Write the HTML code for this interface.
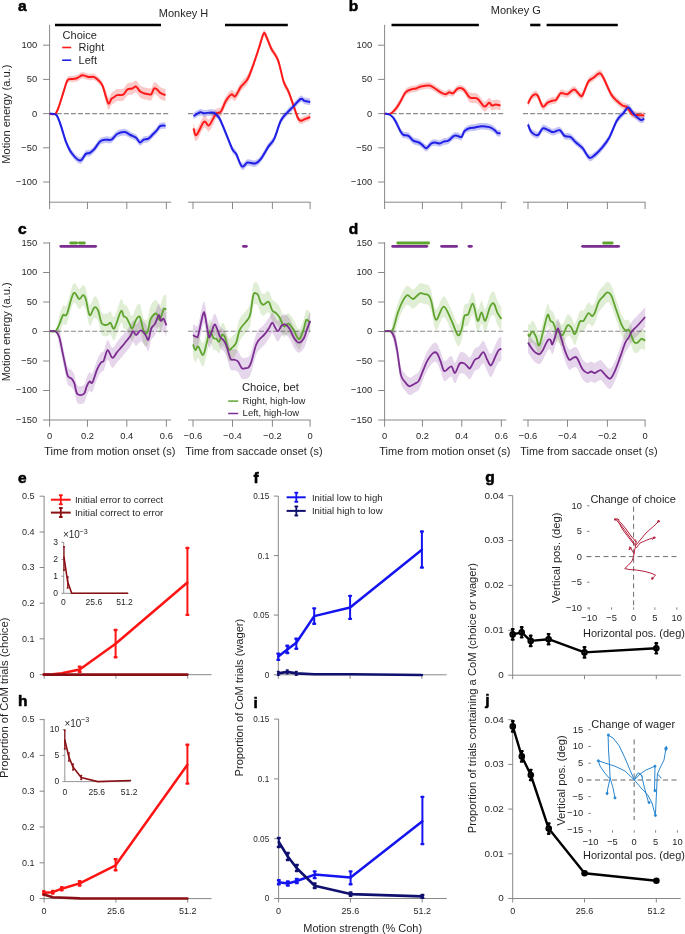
<!DOCTYPE html>
<html><head><meta charset="utf-8"><style>
html,body{margin:0;padding:0;background:#fff;width:685px;height:934px;overflow:hidden}
svg{display:block;font-family:"Liberation Sans", sans-serif}
</style></head><body>
<svg width="685" height="934" viewBox="0 0 685 934">
<rect width="685" height="934" fill="#fff"/>
<line x1="49.6" y1="24.8" x2="49.6" y2="202.2" stroke="#7a7a7a" stroke-width="0.9" stroke-linecap="butt"/>
<line x1="43.1" y1="45.2" x2="49.6" y2="45.2" stroke="#7a7a7a" stroke-width="0.9" stroke-linecap="butt"/>
<text transform="translate(37.2 48.16) scale(0.95 1)" font-size="9.86" text-anchor="end" fill="#231f20">100</text>
<line x1="43.1" y1="79.4" x2="49.6" y2="79.4" stroke="#7a7a7a" stroke-width="0.9" stroke-linecap="butt"/>
<text transform="translate(37.2 82.36) scale(0.95 1)" font-size="9.86" text-anchor="end" fill="#231f20">50</text>
<line x1="43.1" y1="113.6" x2="49.6" y2="113.6" stroke="#7a7a7a" stroke-width="0.9" stroke-linecap="butt"/>
<text transform="translate(37.2 116.56) scale(0.95 1)" font-size="9.86" text-anchor="end" fill="#231f20">0</text>
<line x1="43.1" y1="147.8" x2="49.6" y2="147.8" stroke="#7a7a7a" stroke-width="0.9" stroke-linecap="butt"/>
<text transform="translate(37.2 150.76) scale(0.95 1)" font-size="9.86" text-anchor="end" fill="#231f20">−50</text>
<line x1="43.1" y1="182" x2="49.6" y2="182" stroke="#7a7a7a" stroke-width="0.9" stroke-linecap="butt"/>
<text transform="translate(37.2 184.96) scale(0.95 1)" font-size="9.86" text-anchor="end" fill="#231f20">−100</text>
<line x1="49.15" y1="202.2" x2="171.2" y2="202.2" stroke="#7a7a7a" stroke-width="0.9" stroke-linecap="butt"/>
<line x1="49.6" y1="202.2" x2="49.6" y2="209" stroke="#7a7a7a" stroke-width="0.9" stroke-linecap="butt"/>
<line x1="87.45" y1="202.2" x2="87.45" y2="209" stroke="#7a7a7a" stroke-width="0.9" stroke-linecap="butt"/>
<line x1="126.8" y1="202.2" x2="126.8" y2="209" stroke="#7a7a7a" stroke-width="0.9" stroke-linecap="butt"/>
<line x1="166.35" y1="202.2" x2="166.35" y2="209" stroke="#7a7a7a" stroke-width="0.9" stroke-linecap="butt"/>
<line x1="188" y1="202.2" x2="310.5" y2="202.2" stroke="#7a7a7a" stroke-width="0.9" stroke-linecap="butt"/>
<line x1="193" y1="202.2" x2="193" y2="209" stroke="#7a7a7a" stroke-width="0.9" stroke-linecap="butt"/>
<line x1="232.5" y1="202.2" x2="232.5" y2="209" stroke="#7a7a7a" stroke-width="0.9" stroke-linecap="butt"/>
<line x1="272.4" y1="202.2" x2="272.4" y2="209" stroke="#7a7a7a" stroke-width="0.9" stroke-linecap="butt"/>
<line x1="310.1" y1="202.2" x2="310.1" y2="209" stroke="#7a7a7a" stroke-width="0.9" stroke-linecap="butt"/>
<line x1="49.6" y1="113.6" x2="170.1" y2="113.6" stroke="#8c8c8c" stroke-width="1.1" stroke-linecap="butt" stroke-dasharray="5,2.1"/>
<line x1="188" y1="113.6" x2="310.5" y2="113.6" stroke="#8c8c8c" stroke-width="1.1" stroke-linecap="butt" stroke-dasharray="5,2.1"/>
<line x1="55" y1="25" x2="161" y2="25" stroke="#000" stroke-width="2.6" stroke-linecap="butt"/>
<line x1="225" y1="25" x2="287.8" y2="25" stroke="#000" stroke-width="2.6" stroke-linecap="butt"/>
<text x="183.5" y="16.76" font-size="11" text-anchor="middle" font-weight="normal" fill="#231f20">Monkey H</text>
<text x="17.9" y="11.2" font-size="15.5" text-anchor="start" font-weight="bold" fill="#000" stroke="#000" stroke-width="0.55" stroke-linejoin="round">a</text>
<text x="10.1" y="114.15" font-size="11" text-anchor="middle" font-weight="normal" fill="#231f20" textLength="99" lengthAdjust="spacingAndGlyphs" transform="rotate(-90 10.1 114.15)">Motion energy (a.u.)</text>
<line x1="384.6" y1="24.8" x2="384.6" y2="202.2" stroke="#7a7a7a" stroke-width="0.9" stroke-linecap="butt"/>
<line x1="378.1" y1="45.2" x2="384.6" y2="45.2" stroke="#7a7a7a" stroke-width="0.9" stroke-linecap="butt"/>
<text transform="translate(372.2 48.16) scale(0.95 1)" font-size="9.86" text-anchor="end" fill="#231f20">100</text>
<line x1="378.1" y1="79.4" x2="384.6" y2="79.4" stroke="#7a7a7a" stroke-width="0.9" stroke-linecap="butt"/>
<text transform="translate(372.2 82.36) scale(0.95 1)" font-size="9.86" text-anchor="end" fill="#231f20">50</text>
<line x1="378.1" y1="113.6" x2="384.6" y2="113.6" stroke="#7a7a7a" stroke-width="0.9" stroke-linecap="butt"/>
<text transform="translate(372.2 116.56) scale(0.95 1)" font-size="9.86" text-anchor="end" fill="#231f20">0</text>
<line x1="378.1" y1="147.8" x2="384.6" y2="147.8" stroke="#7a7a7a" stroke-width="0.9" stroke-linecap="butt"/>
<text transform="translate(372.2 150.76) scale(0.95 1)" font-size="9.86" text-anchor="end" fill="#231f20">−50</text>
<line x1="378.1" y1="182" x2="384.6" y2="182" stroke="#7a7a7a" stroke-width="0.9" stroke-linecap="butt"/>
<text transform="translate(372.2 184.96) scale(0.95 1)" font-size="9.86" text-anchor="end" fill="#231f20">−100</text>
<line x1="384.15" y1="202.2" x2="506.2" y2="202.2" stroke="#7a7a7a" stroke-width="0.9" stroke-linecap="butt"/>
<line x1="384.6" y1="202.2" x2="384.6" y2="209" stroke="#7a7a7a" stroke-width="0.9" stroke-linecap="butt"/>
<line x1="422.45" y1="202.2" x2="422.45" y2="209" stroke="#7a7a7a" stroke-width="0.9" stroke-linecap="butt"/>
<line x1="461.8" y1="202.2" x2="461.8" y2="209" stroke="#7a7a7a" stroke-width="0.9" stroke-linecap="butt"/>
<line x1="501.35" y1="202.2" x2="501.35" y2="209" stroke="#7a7a7a" stroke-width="0.9" stroke-linecap="butt"/>
<line x1="523" y1="202.2" x2="645.5" y2="202.2" stroke="#7a7a7a" stroke-width="0.9" stroke-linecap="butt"/>
<line x1="528" y1="202.2" x2="528" y2="209" stroke="#7a7a7a" stroke-width="0.9" stroke-linecap="butt"/>
<line x1="567.5" y1="202.2" x2="567.5" y2="209" stroke="#7a7a7a" stroke-width="0.9" stroke-linecap="butt"/>
<line x1="607.4" y1="202.2" x2="607.4" y2="209" stroke="#7a7a7a" stroke-width="0.9" stroke-linecap="butt"/>
<line x1="645.1" y1="202.2" x2="645.1" y2="209" stroke="#7a7a7a" stroke-width="0.9" stroke-linecap="butt"/>
<line x1="384.6" y1="113.6" x2="505.1" y2="113.6" stroke="#8c8c8c" stroke-width="1.1" stroke-linecap="butt" stroke-dasharray="5,2.1"/>
<line x1="523" y1="113.6" x2="645.5" y2="113.6" stroke="#8c8c8c" stroke-width="1.1" stroke-linecap="butt" stroke-dasharray="5,2.1"/>
<line x1="391.5" y1="25" x2="478.9" y2="25" stroke="#000" stroke-width="2.6" stroke-linecap="butt"/>
<line x1="530.2" y1="25" x2="540.4" y2="25" stroke="#000" stroke-width="2.6" stroke-linecap="butt"/>
<line x1="546.6" y1="25" x2="617.8" y2="25" stroke="#000" stroke-width="2.6" stroke-linecap="butt"/>
<text x="515.8" y="14.46" font-size="11" text-anchor="middle" font-weight="normal" fill="#231f20">Monkey G</text>
<text x="348.71" y="11.2" font-size="15.5" text-anchor="start" font-weight="bold" fill="#000" stroke="#000" stroke-width="0.55" stroke-linejoin="round">b</text>
<path d="M49.7,113.7 C50.65,113.7 53.82,115.6 55.4,113.7 C56.98,111.8 57.77,106.72 59.2,102.3 C60.63,97.88 62.57,91.47 64,87.2 C65.43,82.93 66.22,78.6 67.8,76.7 C69.38,74.8 71.92,76.12 73.5,75.8 C75.08,75.48 75.88,75.43 77.3,74.8 C78.72,74.17 80.58,72.32 82,72 C83.42,71.68 84.53,72.58 85.8,72.9 C87.07,73.22 88.18,73.73 89.6,73.9 C91.02,74.07 92.57,73.12 94.3,73.9 C96.03,74.68 98.57,77.02 100,78.6 C101.43,80.18 101.95,81.5 102.9,83.4 C103.85,85.3 104.75,87.63 105.7,90 C106.65,92.37 107.65,97.12 108.6,97.6 C109.55,98.08 110.45,94 111.4,92.9 C112.35,91.8 113.35,91.63 114.3,91 C115.25,90.37 116,89.42 117.1,89.1 C118.2,88.78 119.8,89.25 120.9,89.1 C122,88.95 122.6,89.15 123.7,88.2 C124.8,87.25 126.07,84.35 127.5,83.4 C128.93,82.45 130.87,82.97 132.3,82.5 C133.73,82.03 134.83,80.13 136.1,80.6 C137.37,81.07 138.63,84.2 139.9,85.3 C141.17,86.4 142.28,86.72 143.7,87.2 C145.12,87.68 147.13,88.03 148.4,88.2 C149.67,88.37 150.35,89.15 151.3,88.2 C152.25,87.25 153.15,83.3 154.1,82.5 C155.05,81.7 155.9,82.62 157,83.4 C158.1,84.18 159.28,86.25 160.7,87.2 C162.12,88.15 164.7,88.78 165.5,89.1 L165.5,101.1 C164.7,100.78 162.12,100.15 160.7,99.2 C159.28,98.25 158.1,96.18 157,95.4 C155.9,94.62 155.05,93.7 154.1,94.5 C153.15,95.3 152.25,99.25 151.3,100.2 C150.35,101.15 149.67,100.37 148.4,100.2 C147.13,100.03 145.12,99.68 143.7,99.2 C142.28,98.72 141.17,98.4 139.9,97.3 C138.63,96.2 137.37,93.07 136.1,92.6 C134.83,92.13 133.73,94.03 132.3,94.5 C130.87,94.97 128.93,94.45 127.5,95.4 C126.07,96.35 124.8,99.25 123.7,100.2 C122.6,101.15 122,100.95 120.9,101.1 C119.8,101.25 118.2,100.78 117.1,101.1 C116,101.42 115.25,102.37 114.3,103 C113.35,103.63 112.35,103.8 111.4,104.9 C110.45,106 109.55,110.08 108.6,109.6 C107.65,109.12 106.65,105.3 105.7,102 C104.75,98.7 103.85,92.63 102.9,89.8 C101.95,86.97 101.43,86.58 100,85 C98.57,83.42 96.03,81.08 94.3,80.3 C92.57,79.52 91.02,80.47 89.6,80.3 C88.18,80.13 87.07,79.62 85.8,79.3 C84.53,78.98 83.42,78.08 82,78.4 C80.58,78.72 78.72,80.57 77.3,81.2 C75.88,81.83 75.08,81.88 73.5,82.2 C71.92,82.52 69.38,81.2 67.8,83.1 C66.22,85 65.43,89.33 64,93.6 C62.57,97.87 60.63,105.35 59.2,108.7 C57.77,112.05 56.98,112.87 55.4,113.7 C53.82,114.53 50.65,113.7 49.7,113.7 Z" fill="#fcc9c9" stroke="none" style="mix-blend-mode:multiply"/>
<path d="M193.5,122.4 C193.98,123.5 194.65,130.1 196.4,129 C198.15,127.9 201.95,117.37 204,115.8 C206.05,114.23 207.12,120.23 208.7,119.6 C210.28,118.97 212.23,113.82 213.5,112 C214.77,110.18 215.03,109.57 216.3,108.7 C217.57,107.83 219.52,108.85 221.1,106.8 C222.68,104.75 224.07,99.23 225.8,96.4 C227.53,93.57 229.92,90.58 231.5,89.8 C233.08,89.02 233.72,92.97 235.3,91.7 C236.88,90.43 238.95,85.05 241,82.2 C243.05,79.35 245.55,78.05 247.6,74.6 C249.65,71.15 251.4,66.52 253.3,61.5 C255.2,56.48 257.27,49.72 259,44.5 C260.73,39.28 262.43,31.95 263.7,30.2 C264.97,28.45 265.33,31.47 266.6,34 C267.87,36.53 269.4,41.6 271.3,45.4 C273.2,49.2 275.93,51.27 278,56.8 C280.07,62.33 281.97,73.38 283.7,78.6 C285.43,83.82 286.82,84.3 288.4,88.1 C289.98,91.9 291.62,96.97 293.2,101.4 C294.78,105.83 296.65,112.02 297.9,114.7 C299.15,117.38 299.43,117.35 300.7,117.5 C301.97,117.65 303.92,116.23 305.5,115.6 C307.08,114.97 309.42,114.02 310.2,113.7 L310.2,120.3 C309.42,120.62 307.08,121.57 305.5,122.2 C303.92,122.83 301.97,124.25 300.7,124.1 C299.43,123.95 299.15,123.98 297.9,121.3 C296.65,118.62 294.78,112.43 293.2,108 C291.62,103.57 289.98,98.5 288.4,94.7 C286.82,90.9 285.43,90.42 283.7,85.2 C281.97,79.98 280.07,68.93 278,63.4 C275.93,57.87 273.2,55.8 271.3,52 C269.4,48.2 267.87,43.13 266.6,40.6 C265.33,38.07 264.97,35.05 263.7,36.8 C262.43,38.55 260.73,45.88 259,51.1 C257.27,56.32 255.2,62.68 253.3,68.1 C251.4,73.52 249.65,79.75 247.6,83.6 C245.55,87.45 243.05,88.35 241,91.2 C238.95,94.05 236.88,99.43 235.3,100.7 C233.72,101.97 233.08,98.02 231.5,98.8 C229.92,99.58 227.53,102.57 225.8,105.4 C224.07,108.23 222.68,113.75 221.1,115.8 C219.52,117.85 217.57,116.33 216.3,117.7 C215.03,119.07 214.77,121.68 213.5,124 C212.23,126.32 210.28,130.97 208.7,131.6 C207.12,132.23 206.05,126.23 204,127.8 C201.95,129.37 198.15,139.9 196.4,141 C194.65,142.1 193.98,135.5 193.5,134.4 Z" fill="#fcc9c9" stroke="none" style="mix-blend-mode:multiply"/>
<path d="M384.7,113.7 C385.65,113.7 388.5,115.13 390.4,113.7 C392.3,112.27 394.35,107.8 396.1,105.1 C397.85,102.4 399.32,100.18 400.9,97.5 C402.48,94.82 403.87,90.9 405.6,89 C407.33,87.1 409.55,86.73 411.3,86.1 C413.05,85.47 414.52,85.67 416.1,85.2 C417.68,84.73 418.6,83.78 420.8,83.3 C423,82.82 426.93,81.98 429.3,82.3 C431.67,82.62 433.1,84.08 435,85.2 C436.9,86.32 438.95,88.05 440.7,89 C442.45,89.95 444.07,90.9 445.5,90.9 C446.93,90.9 448.03,89.17 449.3,89 C450.57,88.83 451.68,90.53 453.1,89.9 C454.52,89.27 456.07,85.83 457.8,85.2 C459.53,84.57 461.6,84.97 463.5,86.1 C465.4,87.23 467.62,90.85 469.2,92 C470.78,93.15 471.58,92.68 473,93 C474.42,93.32 475.8,92.48 477.7,93.9 C479.6,95.32 482.5,100.87 484.4,101.5 C486.3,102.13 487.83,97.87 489.1,97.7 C490.37,97.53 490.9,100.18 492,100.5 C493.1,100.82 494.28,99.6 495.7,99.6 C497.12,99.6 499.7,100.35 500.5,100.5 L500.5,110.5 C499.7,110.35 497.12,109.6 495.7,109.6 C494.28,109.6 493.1,110.82 492,110.5 C490.9,110.18 490.37,107.53 489.1,107.7 C487.83,107.87 486.3,112.13 484.4,111.5 C482.5,110.87 479.6,105.32 477.7,103.9 C475.8,102.48 474.42,103.32 473,103 C471.58,102.68 470.78,103.72 469.2,102 C467.62,100.28 465.4,94.4 463.5,92.7 C461.6,91 459.53,91.17 457.8,91.8 C456.07,92.43 454.52,95.87 453.1,96.5 C451.68,97.13 450.57,95.43 449.3,95.6 C448.03,95.77 446.93,97.5 445.5,97.5 C444.07,97.5 442.45,96.55 440.7,95.6 C438.95,94.65 436.9,92.92 435,91.8 C433.1,90.68 431.67,89.22 429.3,88.9 C426.93,88.58 423,89.42 420.8,89.9 C418.6,90.38 417.68,91.33 416.1,91.8 C414.52,92.27 413.05,92.07 411.3,92.7 C409.55,93.33 407.33,93.7 405.6,95.6 C403.87,97.5 402.48,101.42 400.9,104.1 C399.32,106.78 397.85,110.1 396.1,111.7 C394.35,113.3 392.3,113.37 390.4,113.7 C388.5,114.03 385.65,113.7 384.7,113.7 Z" fill="#fcc9c9" stroke="none" style="mix-blend-mode:multiply"/>
<path d="M528,100.1 C528.57,99 530.2,95.07 531.4,93.5 C532.6,91.93 534.1,90.85 535.2,90.7 C536.3,90.55 536.73,90.55 538,92.6 C539.27,94.65 541.22,101.9 542.8,103 C544.38,104.1 545.92,100.15 547.5,99.2 C549.08,98.25 550.87,97.78 552.3,97.3 C553.73,96.82 554.68,97.57 556.1,96.3 C557.52,95.03 558.92,90.63 560.8,89.7 C562.68,88.77 565.18,91.33 567.4,90.7 C569.62,90.07 572.03,85.75 574.1,85.9 C576.17,86.05 578.38,90.65 579.8,91.6 C581.22,92.55 581.18,93.82 582.6,91.6 C584.02,89.38 586.55,81.15 588.3,78.3 C590.05,75.45 591.2,75.92 593.1,74.5 C595,73.08 597.97,69.8 599.7,69.8 C601.43,69.8 601.6,71.02 603.5,74.5 C605.4,77.98 608.88,86.9 611.1,90.7 C613.32,94.5 614.9,95.42 616.8,97.3 C618.7,99.18 620.77,100.9 622.5,102 C624.23,103.1 625.62,102.47 627.2,103.9 C628.78,105.33 630.27,109.33 632,110.6 C633.73,111.87 635.55,111.28 637.6,111.5 C639.65,111.72 643.18,111.83 644.3,111.9 L644.3,118.9 C643.18,118.83 639.65,118.72 637.6,118.5 C635.55,118.28 633.73,118.87 632,117.6 C630.27,116.33 628.78,112.33 627.2,110.9 C625.62,109.47 624.23,110.1 622.5,109 C620.77,107.9 618.7,106.18 616.8,104.3 C614.9,102.42 613.32,101.5 611.1,97.7 C608.88,93.9 605.4,84.98 603.5,81.5 C601.6,78.02 601.43,76.8 599.7,76.8 C597.97,76.8 595,80.08 593.1,81.5 C591.2,82.92 590.05,82.45 588.3,85.3 C586.55,88.15 584.02,96.38 582.6,98.6 C581.18,100.82 581.22,99.55 579.8,98.6 C578.38,97.65 576.17,93.05 574.1,92.9 C572.03,92.75 569.62,97.07 567.4,97.7 C565.18,98.33 562.68,95.77 560.8,96.7 C558.92,97.63 557.52,102.03 556.1,103.3 C554.68,104.57 553.73,103.82 552.3,104.3 C550.87,104.78 549.08,105.25 547.5,106.2 C545.92,107.15 544.38,111.1 542.8,110 C541.22,108.9 539.27,101.65 538,99.6 C536.73,97.55 536.3,97.55 535.2,97.7 C534.1,97.85 532.6,98.93 531.4,100.5 C530.2,102.07 528.57,106 528,107.1 Z" fill="#fcc9c9" stroke="none" style="mix-blend-mode:multiply"/>
<path d="M49.7,113.7 C50.82,113.92 54.5,113.43 56.4,115 C58.3,116.57 59.52,119.22 61.1,123.1 C62.68,126.98 64.15,133.87 65.9,138.3 C67.65,142.73 69.23,146.53 71.6,149.7 C73.97,152.87 77.73,157.15 80.1,157.3 C82.47,157.45 84.22,151.87 85.8,150.6 C87.38,149.33 88.18,150.48 89.6,149.7 C91.02,148.92 92.57,147.8 94.3,145.9 C96.03,144 98.1,139.88 100,138.3 C101.9,136.72 103.8,136.72 105.7,136.4 C107.6,136.08 109.5,137.35 111.4,136.4 C113.3,135.45 114.88,131.97 117.1,130.7 C119.32,129.43 122.48,128.63 124.7,128.8 C126.92,128.97 128.5,130.75 130.4,131.7 C132.3,132.65 134.52,133.25 136.1,134.5 C137.68,135.75 138.63,138.88 139.9,139.2 C141.17,139.52 142.28,137.03 143.7,136.4 C145.12,135.77 146.82,136.35 148.4,135.4 C149.98,134.45 151.77,132.12 153.2,130.7 C154.63,129.28 155.9,128.17 157,126.9 C158.1,125.63 158.7,123.88 159.8,123.1 C160.9,122.32 162.65,122.27 163.6,122.2 C164.55,122.13 165.18,122.62 165.5,122.7 L165.5,129.3 C165.18,129.22 164.55,128.73 163.6,128.8 C162.65,128.87 160.9,128.92 159.8,129.7 C158.7,130.48 158.1,132.23 157,133.5 C155.9,134.77 154.63,135.88 153.2,137.3 C151.77,138.72 149.98,141.05 148.4,142 C146.82,142.95 145.12,142.37 143.7,143 C142.28,143.63 141.17,146.12 139.9,145.8 C138.63,145.48 137.68,142.35 136.1,141.1 C134.52,139.85 132.3,139.25 130.4,138.3 C128.5,137.35 126.92,135.57 124.7,135.4 C122.48,135.23 119.32,136.03 117.1,137.3 C114.88,138.57 113.3,142.05 111.4,143 C109.5,143.95 107.6,142.68 105.7,143 C103.8,143.32 101.9,143.32 100,144.9 C98.1,146.48 96.03,150.6 94.3,152.5 C92.57,154.4 91.02,155.52 89.6,156.3 C88.18,157.08 87.38,155.93 85.8,157.2 C84.22,158.47 82.47,164.05 80.1,163.9 C77.73,163.75 73.97,159.47 71.6,156.3 C69.23,153.13 67.65,149.33 65.9,144.9 C64.15,140.47 62.68,134.68 61.1,129.7 C59.52,124.72 58.3,117.67 56.4,115 C54.5,112.33 50.82,113.92 49.7,113.7 Z" fill="#c4c4f7" stroke="none" style="mix-blend-mode:multiply"/>
<path d="M193.5,112.8 C194.62,112.17 198.45,109.48 200.2,109 C201.95,108.52 201.78,109.83 204,109.9 C206.22,109.97 210.97,108.6 213.5,109.4 C216.03,110.2 217.15,111.28 219.2,114.7 C221.25,118.12 223.6,124.68 225.8,129.9 C228,135.12 230.67,142.53 232.4,146 C234.13,149.47 234.62,147.85 236.2,150.7 C237.78,153.55 240,161.67 241.9,163.1 C243.8,164.53 245.38,159.78 247.6,159.3 C249.82,158.82 252.98,160.83 255.2,160.2 C257.42,159.57 258.68,158.35 260.9,155.5 C263.12,152.65 266.28,146.42 268.5,143.1 C270.72,139.78 272.15,139.87 274.2,135.6 C276.25,131.33 278.58,121.93 280.8,117.5 C283.02,113.07 285.43,111.37 287.5,109 C289.57,106.63 291,105.52 293.2,103.3 C295.4,101.08 298.82,96.65 300.7,95.7 C302.58,94.75 302.92,97.12 304.5,97.6 C306.08,98.08 309.25,98.43 310.2,98.6 L310.2,105.2 C309.25,105.03 306.08,104.68 304.5,104.2 C302.92,103.72 302.58,101.35 300.7,102.3 C298.82,103.25 295.4,107.68 293.2,109.9 C291,112.12 289.57,113.23 287.5,115.6 C285.43,117.97 283.02,119.67 280.8,124.1 C278.58,128.53 276.25,137.93 274.2,142.2 C272.15,146.47 270.72,146.38 268.5,149.7 C266.28,153.02 263.12,159.25 260.9,162.1 C258.68,164.95 257.42,166.17 255.2,166.8 C252.98,167.43 249.82,165.42 247.6,165.9 C245.38,166.38 243.8,171.13 241.9,169.7 C240,168.27 237.78,160.15 236.2,157.3 C234.62,154.45 234.13,156.07 232.4,152.6 C230.67,149.13 228,141.72 225.8,136.5 C223.6,131.28 221.25,124.72 219.2,121.3 C217.15,117.88 216.03,116.8 213.5,116 C210.97,115.2 206.22,116.57 204,116.5 C201.78,116.43 201.95,115.12 200.2,115.6 C198.45,116.08 194.62,118.77 193.5,119.4 Z" fill="#c4c4f7" stroke="none" style="mix-blend-mode:multiply"/>
<path d="M384.7,113.7 C385.65,113.92 388.65,114.38 390.4,115 C392.15,115.62 393.45,115.1 395.2,117.4 C396.95,119.7 399.48,126.42 400.9,128.8 C402.32,131.18 402.43,131.07 403.7,131.7 C404.97,132.33 406.92,131.67 408.5,132.6 C410.08,133.53 411.47,136.2 413.2,137.3 C414.93,138.4 417.32,138.4 418.9,139.2 C420.48,140 421.43,141.15 422.7,142.1 C423.97,143.05 425.08,145.22 426.5,144.9 C427.92,144.58 429.78,141.15 431.2,140.2 C432.62,139.25 433.57,139.2 435,139.2 C436.43,139.2 438.37,140.35 439.8,140.2 C441.23,140.05 442.18,138.78 443.6,138.3 C445.02,137.82 446.57,138.25 448.3,137.3 C450.03,136.35 452.42,133.38 454,132.6 C455.58,131.82 456.53,132.43 457.8,132.6 C459.07,132.77 460.5,134.38 461.6,133.6 C462.7,132.82 463.13,129.33 464.4,127.9 C465.67,126.47 467.45,125.63 469.2,125 C470.95,124.37 473.17,124.42 474.9,124.1 C476.63,123.78 477.87,123.27 479.6,123.1 C481.33,122.93 483.55,122.93 485.3,123.1 C487.05,123.27 488.52,123.47 490.1,124.1 C491.68,124.73 493.55,125.95 494.8,126.9 C496.05,127.85 496.65,129.32 497.6,129.8 C498.55,130.28 500.02,129.8 500.5,129.8 L500.5,136.4 C500.02,136.4 498.55,136.88 497.6,136.4 C496.65,135.92 496.05,134.45 494.8,133.5 C493.55,132.55 491.68,131.33 490.1,130.7 C488.52,130.07 487.05,129.87 485.3,129.7 C483.55,129.53 481.33,129.53 479.6,129.7 C477.87,129.87 476.63,130.38 474.9,130.7 C473.17,131.02 470.95,130.97 469.2,131.6 C467.45,132.23 465.67,133.07 464.4,134.5 C463.13,135.93 462.7,139.42 461.6,140.2 C460.5,140.98 459.07,139.37 457.8,139.2 C456.53,139.03 455.58,138.42 454,139.2 C452.42,139.98 450.03,142.95 448.3,143.9 C446.57,144.85 445.02,144.42 443.6,144.9 C442.18,145.38 441.23,146.65 439.8,146.8 C438.37,146.95 436.43,145.8 435,145.8 C433.57,145.8 432.62,145.85 431.2,146.8 C429.78,147.75 427.92,151.18 426.5,151.5 C425.08,151.82 423.97,149.65 422.7,148.7 C421.43,147.75 420.48,146.6 418.9,145.8 C417.32,145 414.93,145 413.2,143.9 C411.47,142.8 410.08,140.13 408.5,139.2 C406.92,138.27 404.97,138.93 403.7,138.3 C402.43,137.67 402.32,137.78 400.9,135.4 C399.48,133.02 396.95,127.4 395.2,124 C393.45,120.6 392.15,116.72 390.4,115 C388.65,113.28 385.65,113.92 384.7,113.7 Z" fill="#c4c4f7" stroke="none" style="mix-blend-mode:multiply"/>
<path d="M528,121.2 C528.57,122.47 529.73,127.05 531.4,128.8 C533.07,130.55 536.1,132.33 538,131.7 C539.9,131.07 541.05,125.8 542.8,125 C544.55,124.2 546.77,126.27 548.5,126.9 C550.23,127.53 551.32,128.8 553.2,128.8 C555.08,128.8 557.9,126.27 559.8,126.9 C561.7,127.53 562.85,131.48 564.6,132.6 C566.35,133.72 568.4,132.5 570.3,133.6 C572.2,134.7 573.95,137.32 576,139.2 C578.05,141.08 580.38,142.37 582.6,144.9 C584.82,147.43 587.23,153.28 589.3,154.4 C591.37,155.52 592.95,153.18 595,151.6 C597.05,150.02 599.23,147.75 601.6,144.9 C603.97,142.05 606.67,139.08 609.2,134.5 C611.73,129.92 614.43,121.52 616.8,117.4 C619.17,113.28 621.5,112.02 623.4,109.8 C625.3,107.58 626.45,103.93 628.2,104.1 C629.95,104.27 631.85,108.73 633.9,110.8 C635.95,112.87 638.77,115.72 640.5,116.5 C642.23,117.28 643.67,115.67 644.3,115.5 L644.3,122.1 C643.67,122.27 642.23,123.88 640.5,123.1 C638.77,122.32 635.95,119.47 633.9,117.4 C631.85,115.33 629.95,110.87 628.2,110.7 C626.45,110.53 625.3,114.18 623.4,116.4 C621.5,118.62 619.17,119.88 616.8,124 C614.43,128.12 611.73,136.52 609.2,141.1 C606.67,145.68 603.97,148.65 601.6,151.5 C599.23,154.35 597.05,156.62 595,158.2 C592.95,159.78 591.37,162.12 589.3,161 C587.23,159.88 584.82,154.03 582.6,151.5 C580.38,148.97 578.05,147.68 576,145.8 C573.95,143.92 572.2,141.3 570.3,140.2 C568.4,139.1 566.35,140.32 564.6,139.2 C562.85,138.08 561.7,134.13 559.8,133.5 C557.9,132.87 555.08,135.4 553.2,135.4 C551.32,135.4 550.23,134.13 548.5,133.5 C546.77,132.87 544.55,130.8 542.8,131.6 C541.05,132.4 539.9,137.67 538,138.3 C536.1,138.93 533.07,137.15 531.4,135.4 C529.73,133.65 528.57,129.07 528,127.8 Z" fill="#c4c4f7" stroke="none" style="mix-blend-mode:multiply"/>
<path d="M49.7,113.7 C50.65,113.7 53.82,115.07 55.4,113.7 C56.98,112.33 57.77,109.38 59.2,105.5 C60.63,101.62 62.57,94.67 64,90.4 C65.43,86.13 66.22,81.8 67.8,79.9 C69.38,78 71.92,79.32 73.5,79 C75.08,78.68 75.88,78.63 77.3,78 C78.72,77.37 80.58,75.52 82,75.2 C83.42,74.88 84.53,75.78 85.8,76.1 C87.07,76.42 88.18,76.93 89.6,77.1 C91.02,77.27 92.57,76.32 94.3,77.1 C96.03,77.88 98.57,80.22 100,81.8 C101.43,83.38 101.95,84.23 102.9,86.6 C103.85,88.97 104.75,93.17 105.7,96 C106.65,98.83 107.65,103.12 108.6,103.6 C109.55,104.08 110.45,100 111.4,98.9 C112.35,97.8 113.35,97.63 114.3,97 C115.25,96.37 116,95.42 117.1,95.1 C118.2,94.78 119.8,95.25 120.9,95.1 C122,94.95 122.6,95.15 123.7,94.2 C124.8,93.25 126.07,90.35 127.5,89.4 C128.93,88.45 130.87,88.97 132.3,88.5 C133.73,88.03 134.83,86.13 136.1,86.6 C137.37,87.07 138.63,90.2 139.9,91.3 C141.17,92.4 142.28,92.72 143.7,93.2 C145.12,93.68 147.13,94.03 148.4,94.2 C149.67,94.37 150.35,95.15 151.3,94.2 C152.25,93.25 153.15,89.3 154.1,88.5 C155.05,87.7 155.9,88.62 157,89.4 C158.1,90.18 159.28,92.25 160.7,93.2 C162.12,94.15 164.7,94.78 165.5,95.1" fill="none" stroke="#ff1a1a" stroke-width="2.0" stroke-linejoin="round" stroke-linecap="butt"/>
<path d="M193.5,128.4 C193.98,129.5 194.65,136.1 196.4,135 C198.15,133.9 201.95,123.37 204,121.8 C206.05,120.23 207.12,126.23 208.7,125.6 C210.28,124.97 212.23,120.07 213.5,118 C214.77,115.93 215.03,114.32 216.3,113.2 C217.57,112.08 219.52,113.35 221.1,111.3 C222.68,109.25 224.07,103.73 225.8,100.9 C227.53,98.07 229.92,95.08 231.5,94.3 C233.08,93.52 233.72,97.47 235.3,96.2 C236.88,94.93 238.95,89.55 241,86.7 C243.05,83.85 245.55,82.75 247.6,79.1 C249.65,75.45 251.4,70.02 253.3,64.8 C255.2,59.58 257.27,53.02 259,47.8 C260.73,42.58 262.43,35.25 263.7,33.5 C264.97,31.75 265.33,34.77 266.6,37.3 C267.87,39.83 269.4,44.9 271.3,48.7 C273.2,52.5 275.93,54.57 278,60.1 C280.07,65.63 281.97,76.68 283.7,81.9 C285.43,87.12 286.82,87.6 288.4,91.4 C289.98,95.2 291.62,100.27 293.2,104.7 C294.78,109.13 296.65,115.32 297.9,118 C299.15,120.68 299.43,120.65 300.7,120.8 C301.97,120.95 303.92,119.53 305.5,118.9 C307.08,118.27 309.42,117.32 310.2,117" fill="none" stroke="#ff1a1a" stroke-width="2.0" stroke-linejoin="round" stroke-linecap="butt"/>
<path d="M384.7,113.7 C385.65,113.7 388.5,114.58 390.4,113.7 C392.3,112.82 394.35,110.55 396.1,108.4 C397.85,106.25 399.32,103.48 400.9,100.8 C402.48,98.12 403.87,94.2 405.6,92.3 C407.33,90.4 409.55,90.03 411.3,89.4 C413.05,88.77 414.52,88.97 416.1,88.5 C417.68,88.03 418.6,87.08 420.8,86.6 C423,86.12 426.93,85.28 429.3,85.6 C431.67,85.92 433.1,87.38 435,88.5 C436.9,89.62 438.95,91.35 440.7,92.3 C442.45,93.25 444.07,94.2 445.5,94.2 C446.93,94.2 448.03,92.47 449.3,92.3 C450.57,92.13 451.68,93.83 453.1,93.2 C454.52,92.57 456.07,89.13 457.8,88.5 C459.53,87.87 461.6,87.98 463.5,89.4 C465.4,90.82 467.62,95.57 469.2,97 C470.78,98.43 471.58,97.68 473,98 C474.42,98.32 475.8,97.48 477.7,98.9 C479.6,100.32 482.5,105.87 484.4,106.5 C486.3,107.13 487.83,102.87 489.1,102.7 C490.37,102.53 490.9,105.18 492,105.5 C493.1,105.82 494.28,104.6 495.7,104.6 C497.12,104.6 499.7,105.35 500.5,105.5" fill="none" stroke="#ff1a1a" stroke-width="2.0" stroke-linejoin="round" stroke-linecap="butt"/>
<path d="M528,103.6 C528.57,102.5 530.2,98.57 531.4,97 C532.6,95.43 534.1,94.35 535.2,94.2 C536.3,94.05 536.73,94.05 538,96.1 C539.27,98.15 541.22,105.4 542.8,106.5 C544.38,107.6 545.92,103.65 547.5,102.7 C549.08,101.75 550.87,101.28 552.3,100.8 C553.73,100.32 554.68,101.07 556.1,99.8 C557.52,98.53 558.92,94.13 560.8,93.2 C562.68,92.27 565.18,94.83 567.4,94.2 C569.62,93.57 572.03,89.25 574.1,89.4 C576.17,89.55 578.38,94.15 579.8,95.1 C581.22,96.05 581.18,97.32 582.6,95.1 C584.02,92.88 586.55,84.65 588.3,81.8 C590.05,78.95 591.2,79.42 593.1,78 C595,76.58 597.97,73.3 599.7,73.3 C601.43,73.3 601.6,74.52 603.5,78 C605.4,81.48 608.88,90.4 611.1,94.2 C613.32,98 614.9,98.92 616.8,100.8 C618.7,102.68 620.77,104.4 622.5,105.5 C624.23,106.6 625.62,105.97 627.2,107.4 C628.78,108.83 630.27,112.83 632,114.1 C633.73,115.37 635.55,114.78 637.6,115 C639.65,115.22 643.18,115.33 644.3,115.4" fill="none" stroke="#ff1a1a" stroke-width="2.0" stroke-linejoin="round" stroke-linecap="butt"/>
<path d="M49.7,113.7 C50.82,113.92 54.5,112.88 56.4,115 C58.3,117.12 59.52,121.97 61.1,126.4 C62.68,130.83 64.15,137.17 65.9,141.6 C67.65,146.03 69.23,149.83 71.6,153 C73.97,156.17 77.73,160.45 80.1,160.6 C82.47,160.75 84.22,155.17 85.8,153.9 C87.38,152.63 88.18,153.78 89.6,153 C91.02,152.22 92.57,151.1 94.3,149.2 C96.03,147.3 98.1,143.18 100,141.6 C101.9,140.02 103.8,140.02 105.7,139.7 C107.6,139.38 109.5,140.65 111.4,139.7 C113.3,138.75 114.88,135.27 117.1,134 C119.32,132.73 122.48,131.93 124.7,132.1 C126.92,132.27 128.5,134.05 130.4,135 C132.3,135.95 134.52,136.55 136.1,137.8 C137.68,139.05 138.63,142.18 139.9,142.5 C141.17,142.82 142.28,140.33 143.7,139.7 C145.12,139.07 146.82,139.65 148.4,138.7 C149.98,137.75 151.77,135.42 153.2,134 C154.63,132.58 155.9,131.47 157,130.2 C158.1,128.93 158.7,127.18 159.8,126.4 C160.9,125.62 162.65,125.57 163.6,125.5 C164.55,125.43 165.18,125.92 165.5,126" fill="none" stroke="#1f1fe6" stroke-width="2.0" stroke-linejoin="round" stroke-linecap="butt"/>
<path d="M193.5,116.1 C194.62,115.47 198.45,112.78 200.2,112.3 C201.95,111.82 201.78,113.13 204,113.2 C206.22,113.27 210.97,111.9 213.5,112.7 C216.03,113.5 217.15,114.58 219.2,118 C221.25,121.42 223.6,127.98 225.8,133.2 C228,138.42 230.67,145.83 232.4,149.3 C234.13,152.77 234.62,151.15 236.2,154 C237.78,156.85 240,164.97 241.9,166.4 C243.8,167.83 245.38,163.08 247.6,162.6 C249.82,162.12 252.98,164.13 255.2,163.5 C257.42,162.87 258.68,161.65 260.9,158.8 C263.12,155.95 266.28,149.72 268.5,146.4 C270.72,143.08 272.15,143.17 274.2,138.9 C276.25,134.63 278.58,125.23 280.8,120.8 C283.02,116.37 285.43,114.67 287.5,112.3 C289.57,109.93 291,108.82 293.2,106.6 C295.4,104.38 298.82,99.95 300.7,99 C302.58,98.05 302.92,100.42 304.5,100.9 C306.08,101.38 309.25,101.73 310.2,101.9" fill="none" stroke="#1f1fe6" stroke-width="2.0" stroke-linejoin="round" stroke-linecap="butt"/>
<path d="M384.7,113.7 C385.65,113.92 388.65,113.83 390.4,115 C392.15,116.17 393.45,117.85 395.2,120.7 C396.95,123.55 399.48,129.72 400.9,132.1 C402.32,134.48 402.43,134.37 403.7,135 C404.97,135.63 406.92,134.97 408.5,135.9 C410.08,136.83 411.47,139.5 413.2,140.6 C414.93,141.7 417.32,141.7 418.9,142.5 C420.48,143.3 421.43,144.45 422.7,145.4 C423.97,146.35 425.08,148.52 426.5,148.2 C427.92,147.88 429.78,144.45 431.2,143.5 C432.62,142.55 433.57,142.5 435,142.5 C436.43,142.5 438.37,143.65 439.8,143.5 C441.23,143.35 442.18,142.08 443.6,141.6 C445.02,141.12 446.57,141.55 448.3,140.6 C450.03,139.65 452.42,136.68 454,135.9 C455.58,135.12 456.53,135.73 457.8,135.9 C459.07,136.07 460.5,137.68 461.6,136.9 C462.7,136.12 463.13,132.63 464.4,131.2 C465.67,129.77 467.45,128.93 469.2,128.3 C470.95,127.67 473.17,127.72 474.9,127.4 C476.63,127.08 477.87,126.57 479.6,126.4 C481.33,126.23 483.55,126.23 485.3,126.4 C487.05,126.57 488.52,126.77 490.1,127.4 C491.68,128.03 493.55,129.25 494.8,130.2 C496.05,131.15 496.65,132.62 497.6,133.1 C498.55,133.58 500.02,133.1 500.5,133.1" fill="none" stroke="#1f1fe6" stroke-width="2.0" stroke-linejoin="round" stroke-linecap="butt"/>
<path d="M528,124.5 C528.57,125.77 529.73,130.35 531.4,132.1 C533.07,133.85 536.1,135.63 538,135 C539.9,134.37 541.05,129.1 542.8,128.3 C544.55,127.5 546.77,129.57 548.5,130.2 C550.23,130.83 551.32,132.1 553.2,132.1 C555.08,132.1 557.9,129.57 559.8,130.2 C561.7,130.83 562.85,134.78 564.6,135.9 C566.35,137.02 568.4,135.8 570.3,136.9 C572.2,138 573.95,140.62 576,142.5 C578.05,144.38 580.38,145.67 582.6,148.2 C584.82,150.73 587.23,156.58 589.3,157.7 C591.37,158.82 592.95,156.48 595,154.9 C597.05,153.32 599.23,151.05 601.6,148.2 C603.97,145.35 606.67,142.38 609.2,137.8 C611.73,133.22 614.43,124.82 616.8,120.7 C619.17,116.58 621.5,115.32 623.4,113.1 C625.3,110.88 626.45,107.23 628.2,107.4 C629.95,107.57 631.85,112.03 633.9,114.1 C635.95,116.17 638.77,119.02 640.5,119.8 C642.23,120.58 643.67,118.97 644.3,118.8" fill="none" stroke="#1f1fe6" stroke-width="2.0" stroke-linejoin="round" stroke-linecap="butt"/>
<text x="62.6" y="39.2" font-size="11" text-anchor="start" font-weight="normal" fill="#231f20">Choice</text>
<line x1="62.2" y1="47.5" x2="71.2" y2="47.5" stroke="#ff1a1a" stroke-width="1.6" stroke-linecap="butt"/>
<text x="78.6" y="51" font-size="11" text-anchor="start" font-weight="normal" fill="#231f20">Right</text>
<line x1="62.2" y1="60.2" x2="71.2" y2="60.2" stroke="#1f1fe6" stroke-width="1.6" stroke-linecap="butt"/>
<text x="78.6" y="63.5" font-size="11" text-anchor="start" font-weight="normal" fill="#231f20">Left</text>
<line x1="49.6" y1="242.3" x2="49.6" y2="420" stroke="#7a7a7a" stroke-width="0.9" stroke-linecap="butt"/>
<line x1="43.1" y1="243" x2="49.6" y2="243" stroke="#7a7a7a" stroke-width="0.9" stroke-linecap="butt"/>
<text transform="translate(37.2 245.96) scale(0.95 1)" font-size="9.86" text-anchor="end" fill="#231f20">150</text>
<line x1="43.1" y1="272.5" x2="49.6" y2="272.5" stroke="#7a7a7a" stroke-width="0.9" stroke-linecap="butt"/>
<text transform="translate(37.2 275.46) scale(0.95 1)" font-size="9.86" text-anchor="end" fill="#231f20">100</text>
<line x1="43.1" y1="302" x2="49.6" y2="302" stroke="#7a7a7a" stroke-width="0.9" stroke-linecap="butt"/>
<text transform="translate(37.2 304.96) scale(0.95 1)" font-size="9.86" text-anchor="end" fill="#231f20">50</text>
<line x1="43.1" y1="331.5" x2="49.6" y2="331.5" stroke="#7a7a7a" stroke-width="0.9" stroke-linecap="butt"/>
<text transform="translate(37.2 334.46) scale(0.95 1)" font-size="9.86" text-anchor="end" fill="#231f20">0</text>
<line x1="43.1" y1="361" x2="49.6" y2="361" stroke="#7a7a7a" stroke-width="0.9" stroke-linecap="butt"/>
<text transform="translate(37.2 363.96) scale(0.95 1)" font-size="9.86" text-anchor="end" fill="#231f20">−50</text>
<line x1="43.1" y1="390.5" x2="49.6" y2="390.5" stroke="#7a7a7a" stroke-width="0.9" stroke-linecap="butt"/>
<text transform="translate(37.2 393.46) scale(0.95 1)" font-size="9.86" text-anchor="end" fill="#231f20">−100</text>
<line x1="43.1" y1="420" x2="49.6" y2="420" stroke="#7a7a7a" stroke-width="0.9" stroke-linecap="butt"/>
<text transform="translate(37.2 422.96) scale(0.95 1)" font-size="9.86" text-anchor="end" fill="#231f20">−150</text>
<line x1="49.15" y1="420" x2="171.2" y2="420" stroke="#7a7a7a" stroke-width="0.9" stroke-linecap="butt"/>
<line x1="49.6" y1="420" x2="49.6" y2="426.8" stroke="#7a7a7a" stroke-width="0.9" stroke-linecap="butt"/>
<text transform="translate(49.6 438.96) scale(0.95 1)" font-size="9.86" text-anchor="middle" fill="#231f20">0</text>
<line x1="87.45" y1="420" x2="87.45" y2="426.8" stroke="#7a7a7a" stroke-width="0.9" stroke-linecap="butt"/>
<text transform="translate(87.45 438.96) scale(0.95 1)" font-size="9.86" text-anchor="middle" fill="#231f20">0.2</text>
<line x1="126.8" y1="420" x2="126.8" y2="426.8" stroke="#7a7a7a" stroke-width="0.9" stroke-linecap="butt"/>
<text transform="translate(126.8 438.96) scale(0.95 1)" font-size="9.86" text-anchor="middle" fill="#231f20">0.4</text>
<line x1="166.35" y1="420" x2="166.35" y2="426.8" stroke="#7a7a7a" stroke-width="0.9" stroke-linecap="butt"/>
<text transform="translate(166.35 438.96) scale(0.95 1)" font-size="9.86" text-anchor="middle" fill="#231f20">0.6</text>
<line x1="188" y1="420" x2="310.5" y2="420" stroke="#7a7a7a" stroke-width="0.9" stroke-linecap="butt"/>
<line x1="193" y1="420" x2="193" y2="426.8" stroke="#7a7a7a" stroke-width="0.9" stroke-linecap="butt"/>
<text transform="translate(193 438.96) scale(0.95 1)" font-size="9.86" text-anchor="middle" fill="#231f20">−0.6</text>
<line x1="232.5" y1="420" x2="232.5" y2="426.8" stroke="#7a7a7a" stroke-width="0.9" stroke-linecap="butt"/>
<text transform="translate(232.5 438.96) scale(0.95 1)" font-size="9.86" text-anchor="middle" fill="#231f20">−0.4</text>
<line x1="272.4" y1="420" x2="272.4" y2="426.8" stroke="#7a7a7a" stroke-width="0.9" stroke-linecap="butt"/>
<text transform="translate(272.4 438.96) scale(0.95 1)" font-size="9.86" text-anchor="middle" fill="#231f20">−0.2</text>
<line x1="310.1" y1="420" x2="310.1" y2="426.8" stroke="#7a7a7a" stroke-width="0.9" stroke-linecap="butt"/>
<text transform="translate(310.1 438.96) scale(0.95 1)" font-size="9.86" text-anchor="middle" fill="#231f20">0</text>
<line x1="49.6" y1="331.3" x2="170.1" y2="331.3" stroke="#8c8c8c" stroke-width="1.1" stroke-linecap="butt" stroke-dasharray="5,2.1"/>
<line x1="188" y1="331.3" x2="310.5" y2="331.3" stroke="#8c8c8c" stroke-width="1.1" stroke-linecap="butt" stroke-dasharray="5,2.1"/>
<line x1="60.8" y1="246.3" x2="95.6" y2="246.3" stroke="#7b2d91" stroke-width="2.8" stroke-linecap="round"/>
<line x1="243.4" y1="246.3" x2="246.4" y2="246.3" stroke="#7b2d91" stroke-width="2.8" stroke-linecap="round"/>
<line x1="70.7" y1="243" x2="76.6" y2="243" stroke="#5ea42f" stroke-width="2.8" stroke-linecap="round"/>
<line x1="79.4" y1="243" x2="84.4" y2="243" stroke="#5ea42f" stroke-width="2.8" stroke-linecap="round"/>
<text x="17.9" y="234.4" font-size="15.5" text-anchor="start" font-weight="bold" fill="#000" stroke="#000" stroke-width="0.55" stroke-linejoin="round">c</text>
<text x="44.2" y="455.36" font-size="11" text-anchor="start" font-weight="normal" fill="#231f20" textLength="131.2" lengthAdjust="spacingAndGlyphs">Time from motion onset (s)</text>
<text x="185.3" y="455.36" font-size="11" text-anchor="start" font-weight="normal" fill="#231f20" textLength="137.2" lengthAdjust="spacingAndGlyphs">Time from saccade onset (s)</text>
<text x="10" y="331.85" font-size="11" text-anchor="middle" font-weight="normal" fill="#231f20" textLength="99" lengthAdjust="spacingAndGlyphs" transform="rotate(-90 10 331.85)">Motion energy (a.u.)</text>
<line x1="384.6" y1="242.3" x2="384.6" y2="420" stroke="#7a7a7a" stroke-width="0.9" stroke-linecap="butt"/>
<line x1="378.1" y1="243" x2="384.6" y2="243" stroke="#7a7a7a" stroke-width="0.9" stroke-linecap="butt"/>
<text transform="translate(372.2 245.96) scale(0.95 1)" font-size="9.86" text-anchor="end" fill="#231f20">150</text>
<line x1="378.1" y1="272.5" x2="384.6" y2="272.5" stroke="#7a7a7a" stroke-width="0.9" stroke-linecap="butt"/>
<text transform="translate(372.2 275.46) scale(0.95 1)" font-size="9.86" text-anchor="end" fill="#231f20">100</text>
<line x1="378.1" y1="302" x2="384.6" y2="302" stroke="#7a7a7a" stroke-width="0.9" stroke-linecap="butt"/>
<text transform="translate(372.2 304.96) scale(0.95 1)" font-size="9.86" text-anchor="end" fill="#231f20">50</text>
<line x1="378.1" y1="331.5" x2="384.6" y2="331.5" stroke="#7a7a7a" stroke-width="0.9" stroke-linecap="butt"/>
<text transform="translate(372.2 334.46) scale(0.95 1)" font-size="9.86" text-anchor="end" fill="#231f20">0</text>
<line x1="378.1" y1="361" x2="384.6" y2="361" stroke="#7a7a7a" stroke-width="0.9" stroke-linecap="butt"/>
<text transform="translate(372.2 363.96) scale(0.95 1)" font-size="9.86" text-anchor="end" fill="#231f20">−50</text>
<line x1="378.1" y1="390.5" x2="384.6" y2="390.5" stroke="#7a7a7a" stroke-width="0.9" stroke-linecap="butt"/>
<text transform="translate(372.2 393.46) scale(0.95 1)" font-size="9.86" text-anchor="end" fill="#231f20">−100</text>
<line x1="378.1" y1="420" x2="384.6" y2="420" stroke="#7a7a7a" stroke-width="0.9" stroke-linecap="butt"/>
<text transform="translate(372.2 422.96) scale(0.95 1)" font-size="9.86" text-anchor="end" fill="#231f20">−150</text>
<line x1="384.15" y1="420" x2="506.2" y2="420" stroke="#7a7a7a" stroke-width="0.9" stroke-linecap="butt"/>
<line x1="384.6" y1="420" x2="384.6" y2="426.8" stroke="#7a7a7a" stroke-width="0.9" stroke-linecap="butt"/>
<text transform="translate(384.6 438.96) scale(0.95 1)" font-size="9.86" text-anchor="middle" fill="#231f20">0</text>
<line x1="422.45" y1="420" x2="422.45" y2="426.8" stroke="#7a7a7a" stroke-width="0.9" stroke-linecap="butt"/>
<text transform="translate(422.45 438.96) scale(0.95 1)" font-size="9.86" text-anchor="middle" fill="#231f20">0.2</text>
<line x1="461.8" y1="420" x2="461.8" y2="426.8" stroke="#7a7a7a" stroke-width="0.9" stroke-linecap="butt"/>
<text transform="translate(461.8 438.96) scale(0.95 1)" font-size="9.86" text-anchor="middle" fill="#231f20">0.4</text>
<line x1="501.35" y1="420" x2="501.35" y2="426.8" stroke="#7a7a7a" stroke-width="0.9" stroke-linecap="butt"/>
<text transform="translate(501.35 438.96) scale(0.95 1)" font-size="9.86" text-anchor="middle" fill="#231f20">0.6</text>
<line x1="523" y1="420" x2="645.5" y2="420" stroke="#7a7a7a" stroke-width="0.9" stroke-linecap="butt"/>
<line x1="528" y1="420" x2="528" y2="426.8" stroke="#7a7a7a" stroke-width="0.9" stroke-linecap="butt"/>
<text transform="translate(528 438.96) scale(0.95 1)" font-size="9.86" text-anchor="middle" fill="#231f20">−0.6</text>
<line x1="567.5" y1="420" x2="567.5" y2="426.8" stroke="#7a7a7a" stroke-width="0.9" stroke-linecap="butt"/>
<text transform="translate(567.5 438.96) scale(0.95 1)" font-size="9.86" text-anchor="middle" fill="#231f20">−0.4</text>
<line x1="607.4" y1="420" x2="607.4" y2="426.8" stroke="#7a7a7a" stroke-width="0.9" stroke-linecap="butt"/>
<text transform="translate(607.4 438.96) scale(0.95 1)" font-size="9.86" text-anchor="middle" fill="#231f20">−0.2</text>
<line x1="645.1" y1="420" x2="645.1" y2="426.8" stroke="#7a7a7a" stroke-width="0.9" stroke-linecap="butt"/>
<text transform="translate(645.1 438.96) scale(0.95 1)" font-size="9.86" text-anchor="middle" fill="#231f20">0</text>
<line x1="384.6" y1="331.3" x2="505.1" y2="331.3" stroke="#8c8c8c" stroke-width="1.1" stroke-linecap="butt" stroke-dasharray="5,2.1"/>
<line x1="523" y1="331.3" x2="645.5" y2="331.3" stroke="#8c8c8c" stroke-width="1.1" stroke-linecap="butt" stroke-dasharray="5,2.1"/>
<line x1="392.7" y1="246.3" x2="426.8" y2="246.3" stroke="#7b2d91" stroke-width="2.8" stroke-linecap="round"/>
<line x1="441.6" y1="246.3" x2="456.6" y2="246.3" stroke="#7b2d91" stroke-width="2.8" stroke-linecap="round"/>
<line x1="471.4" y1="246.3" x2="469" y2="246.3" stroke="#7b2d91" stroke-width="2.8" stroke-linecap="round"/>
<line x1="582.6" y1="246.3" x2="618.6" y2="246.3" stroke="#7b2d91" stroke-width="2.8" stroke-linecap="round"/>
<line x1="397.7" y1="243" x2="428.6" y2="243" stroke="#5ea42f" stroke-width="2.8" stroke-linecap="round"/>
<line x1="603.6" y1="243" x2="612.2" y2="243" stroke="#5ea42f" stroke-width="2.8" stroke-linecap="round"/>
<text x="348.71" y="234.4" font-size="15.5" text-anchor="start" font-weight="bold" fill="#000" stroke="#000" stroke-width="0.55" stroke-linejoin="round">d</text>
<text x="379.2" y="455.36" font-size="11" text-anchor="start" font-weight="normal" fill="#231f20" textLength="131.2" lengthAdjust="spacingAndGlyphs">Time from motion onset (s)</text>
<text x="520.3" y="455.36" font-size="11" text-anchor="start" font-weight="normal" fill="#231f20" textLength="137.2" lengthAdjust="spacingAndGlyphs">Time from saccade onset (s)</text>
<path d="M49.7,331.2 C50.65,331.2 53.82,333.82 55.4,331.2 C56.98,328.58 57.93,319.69 59.2,315.45 C60.47,311.22 61.73,307.57 63,305.78 C64.27,303.99 65.05,308.42 66.8,304.71 C68.55,301 71.43,286.13 73.5,283.5 C75.57,280.88 77.62,288.7 79.2,288.95 C80.78,289.19 81.9,285.02 83,284.97 C84.1,284.92 84.7,285.38 85.8,288.65 C86.9,291.91 88.18,303.22 89.6,304.57 C91.02,305.93 92.88,297.61 94.3,296.76 C95.72,295.91 96.83,296.86 98.1,299.49 C99.37,302.11 100.32,310.22 101.9,312.51 C103.48,314.81 106.17,313.47 107.6,313.25 C109.03,313.04 109.38,310.64 110.5,311.22 C111.62,311.81 112.57,318.73 114.3,316.75 C116.03,314.77 119.33,301.47 120.9,299.35 C122.47,297.23 122.75,302.95 123.7,304.02 C124.65,305.1 125.65,304.58 126.6,305.79 C127.55,307 128.45,309.57 129.4,311.26 C130.35,312.95 131.18,316.62 132.3,315.93 C133.42,315.25 134.83,309.12 136.1,307.16 C137.37,305.2 138.63,302.34 139.9,304.19 C141.17,306.03 142.43,315.74 143.7,318.21 C144.97,320.69 146.4,320.99 147.5,319.04 C148.6,317.09 149.2,309.56 150.3,306.51 C151.4,303.46 152.98,301.73 154.1,300.74 C155.22,299.76 156.05,299.72 157,300.61 C157.95,301.5 158.7,306.93 159.8,306.08 C160.9,305.23 162.5,297.29 163.6,295.51 C164.7,293.73 165.93,295.42 166.4,295.4 L166.4,323.4 C165.93,323.38 164.7,321.6 163.6,323.29 C162.5,324.98 160.9,332.77 159.8,333.52 C158.7,334.27 157.95,328.77 157,327.79 C156.05,326.81 155.22,326.78 154.1,327.66 C152.98,328.54 151.4,330.14 150.3,333.09 C149.2,336.04 148.6,343.51 147.5,345.36 C146.4,347.21 144.97,346.78 143.7,344.19 C142.43,341.6 141.17,331.77 139.9,329.81 C138.63,327.86 137.37,330.6 136.1,332.44 C134.83,334.28 133.42,340.29 132.3,340.87 C131.18,341.45 130.35,337.71 129.4,335.94 C128.45,334.16 127.55,331.5 126.6,330.21 C125.65,328.92 124.65,329.34 123.7,328.18 C122.75,327.02 122.47,321.27 120.9,323.25 C119.33,325.23 116.03,338.23 114.3,340.05 C112.57,341.87 111.62,334.86 110.5,334.18 C109.38,333.49 109.03,335.86 107.6,335.95 C106.17,336.03 103.48,337.12 101.9,334.69 C100.32,332.25 99.37,324.05 98.1,321.31 C96.83,318.57 95.72,317.52 94.3,318.24 C92.88,318.96 91.02,327.11 89.6,325.63 C88.18,324.15 86.9,312.72 85.8,309.35 C84.7,305.99 84.1,305.48 83,305.43 C81.9,305.38 80.78,309.44 79.2,309.05 C77.62,308.67 75.57,300.66 73.5,303.1 C71.43,305.53 68.55,320.14 66.8,323.69 C65.05,327.24 64.27,322.74 63,324.42 C61.73,326.09 60.47,332.62 59.2,333.75 C57.93,334.88 56.98,331.62 55.4,331.2 C53.82,330.78 50.65,331.2 49.7,331.2 Z" fill="#e1eed6" stroke="none" style="mix-blend-mode:multiply"/>
<path d="M193,332.5 C193.4,333.46 194.52,337.91 195.4,338.24 C196.28,338.57 197.03,333.67 198.3,334.49 C199.57,335.31 201.58,343.78 203,343.17 C204.42,342.56 205.68,334.78 206.8,330.84 C207.92,326.89 208.58,320.25 209.7,319.49 C210.82,318.72 212.4,324.96 213.5,326.25 C214.6,327.54 215.35,326.55 216.3,327.2 C217.25,327.85 218.25,330.76 219.2,330.15 C220.15,329.53 221.07,324.28 222,323.5 C222.93,322.71 223.7,323.04 224.8,325.44 C225.9,327.85 227.33,336.14 228.6,337.91 C229.87,339.68 231.13,337.17 232.4,336.07 C233.67,334.98 234.93,334.33 236.2,331.34 C237.47,328.34 238.1,321.87 240,318.1 C241.9,314.34 245.85,311.39 247.6,308.73 C249.35,306.08 249.55,306.27 250.5,302.18 C251.45,298.1 252.35,287.53 253.3,284.23 C254.25,280.93 255.4,282.37 256.2,282.38 C257,282.39 257.32,282.72 258.1,284.31 C258.88,285.91 259.97,290.36 260.9,291.96 C261.83,293.56 262.6,294.06 263.7,293.91 C264.8,293.76 266.55,291.37 267.5,291.07 C268.45,290.77 268.6,290.66 269.4,292.11 C270.2,293.55 271.18,298 272.3,299.76 C273.42,301.51 274.83,301.33 276.1,302.62 C277.37,303.91 278.8,305.57 279.9,307.49 C281,309.4 281.92,312.7 282.7,314.13 C283.48,315.56 283.65,316.22 284.6,316.07 C285.55,315.92 286.97,312.74 288.4,313.23 C289.83,313.72 291.77,316.77 293.2,319.01 C294.63,321.25 295.9,325.08 297,326.68 C298.1,328.28 298.7,329.87 299.8,328.63 C300.9,327.38 302.5,322.34 303.6,319.19 C304.7,316.04 305.3,310.67 306.4,309.74 C307.5,308.81 309.57,312.96 310.2,313.6 L310.2,333.6 C309.57,332.98 307.5,328.89 306.4,329.86 C305.3,330.83 304.7,336.22 303.6,339.41 C302.5,342.59 300.9,347.69 299.8,348.97 C298.7,350.26 298.1,348.69 297,347.12 C295.9,345.56 294.63,341.78 293.2,339.59 C291.77,337.4 289.83,334.41 288.4,333.97 C286.97,333.53 285.55,336.75 284.6,336.93 C283.65,337.12 283.48,336.47 282.7,335.07 C281.92,333.66 281,330.4 279.9,328.51 C278.8,326.63 277.37,325.02 276.1,323.78 C274.83,322.53 273.42,322.76 272.3,321.04 C271.18,319.33 270.2,314.91 269.4,313.49 C268.6,312.07 268.45,312.19 267.5,312.53 C266.55,312.86 264.8,315.31 263.7,315.49 C262.6,315.68 261.83,315.21 260.9,313.64 C259.97,312.07 258.88,307.66 258.1,306.09 C257.32,304.52 257,304.21 256.2,304.22 C255.4,304.23 254.25,302.84 253.3,306.17 C252.35,309.5 251.45,320.1 250.5,324.22 C249.55,328.33 249.35,328.15 247.6,330.87 C245.85,333.58 241.9,336.66 240,340.5 C238.1,344.33 237.47,350.82 236.2,353.86 C234.93,356.9 233.67,357.59 232.4,358.73 C231.13,359.86 229.87,362.42 228.6,360.69 C227.33,358.96 225.9,350.72 224.8,348.36 C223.7,345.99 222.93,345.69 222,346.5 C221.07,347.32 220.15,352.6 219.2,353.25 C218.25,353.9 217.25,351.02 216.3,350.4 C215.35,349.78 214.6,350.8 213.5,349.55 C212.4,348.3 210.82,342.11 209.7,342.91 C208.58,343.72 207.92,350.38 206.8,354.36 C205.68,358.35 204.42,366.17 203,366.83 C201.58,367.49 199.57,359.09 198.3,358.31 C197.03,357.53 196.28,362.46 195.4,362.16 C194.52,361.86 193.4,357.44 193,356.5 Z" fill="#e1eed6" stroke="none" style="mix-blend-mode:multiply"/>
<path d="M384.7,331.2 C385.65,331.2 388.97,333.18 390.4,331.2 C391.83,329.22 392.03,324.02 393.3,319.34 C394.57,314.65 396.42,307.73 398,303.11 C399.58,298.48 401.22,294.47 402.8,291.58 C404.38,288.68 405.77,286.11 407.5,285.75 C409.23,285.38 411.15,289.76 413.2,289.39 C415.25,289.02 417.9,284.36 419.8,283.51 C421.7,282.66 423.17,284 424.6,284.28 C426.03,284.55 427.3,284.08 428.4,285.17 C429.5,286.26 429.93,286.73 431.2,290.79 C432.47,294.86 433.93,308.67 436,309.56 C438.07,310.45 441.07,296.22 443.6,296.15 C446.13,296.08 448.83,304.47 451.2,309.14 C453.57,313.81 456.07,322.63 457.8,324.16 C459.53,325.7 460.5,321.54 461.6,318.36 C462.7,315.18 463.3,307.63 464.4,305.08 C465.5,302.53 466.77,305.18 468.2,303.08 C469.63,300.97 471.42,291.39 473,292.44 C474.58,293.5 476.28,308.02 477.7,309.41 C479.12,310.81 480.23,300.84 481.5,300.81 C482.77,300.77 483.87,310.19 485.3,309.2 C486.73,308.22 488.67,297.76 490.1,294.87 C491.53,291.98 492.65,290.8 493.9,291.87 C495.15,292.93 496.35,298.76 497.6,301.27 C498.85,303.77 500.77,305.96 501.4,306.9 L501.4,330.9 C500.77,329.94 498.85,327.7 497.6,325.13 C496.35,322.57 495.15,316.67 493.9,315.53 C492.65,314.4 491.53,315.52 490.1,318.33 C488.67,321.14 486.73,331.48 485.3,332.4 C483.87,333.31 482.77,323.83 481.5,323.79 C480.23,323.76 479.12,333.66 477.7,332.19 C476.28,330.71 474.58,316.1 473,314.96 C471.42,313.81 469.63,323.3 468.2,325.32 C466.77,327.35 465.5,324.63 464.4,327.12 C463.3,329.61 462.7,337.12 461.6,340.24 C460.5,343.36 459.53,347.47 457.8,345.84 C456.07,344.21 453.57,335.26 451.2,330.46 C448.83,325.66 446.13,317.12 443.6,317.05 C441.07,316.98 438.07,331.05 436,330.04 C433.93,329.03 432.47,315.14 431.2,311.01 C429.93,306.87 429.5,306.38 428.4,305.23 C427.3,304.08 426.03,304.48 424.6,304.12 C423.17,303.77 421.7,302.34 419.8,303.09 C417.9,303.84 415.25,308.35 413.2,308.61 C411.15,308.87 409.23,304.39 407.5,304.65 C405.77,304.92 404.38,307.42 402.8,310.22 C401.22,313.03 399.58,316.95 398,321.49 C396.42,326.03 394.57,335.85 393.3,337.46 C392.03,339.08 391.83,332.24 390.4,331.2 C388.97,330.16 385.65,331.2 384.7,331.2 Z" fill="#e1eed6" stroke="none" style="mix-blend-mode:multiply"/>
<path d="M528,323.1 C528.25,323.42 528.78,325.42 529.5,325.01 C530.22,324.6 531.2,320.48 532.3,320.64 C533.4,320.8 534.98,323.64 536.1,325.97 C537.22,328.3 537.88,335.22 539,334.59 C540.12,333.97 541.38,327.28 542.8,322.23 C544.22,317.17 546.23,306.31 547.5,304.27 C548.77,302.23 549.45,308.72 550.4,309.99 C551.35,311.27 552.25,310.32 553.2,311.92 C554.15,313.51 555.15,317.95 556.1,319.54 C557.05,321.13 557.8,320.67 558.9,321.46 C560,322.26 561.28,325.4 562.7,324.3 C564.12,323.19 565.98,316.09 567.4,314.84 C568.82,313.58 569.93,315.33 571.2,316.77 C572.47,318.21 573.57,324.44 575,323.5 C576.43,322.56 578.37,313.35 579.8,311.14 C581.23,308.94 582.18,311.68 583.6,310.28 C585.02,308.87 586.88,303.49 588.3,302.72 C589.72,301.94 590.98,305.79 592.1,305.65 C593.22,305.51 593.9,304.25 595,301.87 C596.1,299.5 597.28,294.09 598.7,291.4 C600.12,288.72 602.07,287.32 603.5,285.75 C604.93,284.17 606.03,282.12 607.3,281.98 C608.57,281.84 609.68,282.2 611.1,284.91 C612.52,287.62 614.07,293.34 615.8,298.25 C617.53,303.17 619.92,310.75 621.5,314.4 C623.08,318.05 624.03,319.17 625.3,320.13 C626.57,321.09 627.67,318.25 629.1,320.16 C630.53,322.08 632.48,329.54 633.9,331.61 C635.32,333.67 636.35,333.01 637.6,332.54 C638.85,332.06 640.13,329.08 641.4,328.77 C642.67,328.46 644.57,330.38 645.2,330.7 L645.2,350.7 C644.57,350.39 642.67,348.5 641.4,348.83 C640.13,349.16 638.85,352.17 637.6,352.66 C636.35,353.16 635.32,353.83 633.9,351.79 C632.48,349.76 630.53,342.32 629.1,340.44 C627.67,338.55 626.57,341.41 625.3,340.47 C624.03,339.53 623.08,338.42 621.5,334.8 C619.92,331.18 617.53,323.63 615.8,318.75 C614.07,313.86 612.52,308.18 611.1,305.49 C609.68,302.8 608.57,302.46 607.3,302.62 C606.03,302.78 604.93,304.86 603.5,306.45 C602.07,308.05 600.12,309.48 598.7,312.2 C597.28,314.91 596.1,320.33 595,322.73 C593.9,325.12 593.22,326.39 592.1,326.55 C590.98,326.71 589.72,322.89 588.3,323.68 C586.88,324.48 585.02,329.9 583.6,331.32 C582.18,332.75 581.23,330.03 579.8,332.26 C578.37,334.49 576.43,343.74 575,344.7 C573.57,345.66 572.47,339.45 571.2,338.03 C569.93,336.61 568.82,334.88 567.4,336.16 C565.98,337.44 564.12,344.57 562.7,345.7 C561.28,346.83 560,343.71 558.9,342.94 C557.8,342.16 557.05,342.64 556.1,341.06 C555.15,339.48 554.15,335.06 553.2,333.48 C552.25,331.91 551.35,332.87 550.4,331.61 C549.45,330.35 548.77,323.87 547.5,325.93 C546.23,327.99 544.22,338.89 542.8,343.97 C541.38,349.05 540.12,355.76 539,356.41 C537.88,357.05 537.22,350.14 536.1,347.83 C534.98,345.52 533.4,342.7 532.3,342.56 C531.2,342.42 530.22,346.56 529.5,346.99 C528.78,347.41 528.25,345.41 528,345.1 Z" fill="#e1eed6" stroke="none" style="mix-blend-mode:multiply"/>
<path d="M49.7,331.2 C50.65,331.2 53.82,331.6 55.4,331.2 C56.98,330.8 58.08,326.99 59.2,328.78 C60.32,330.58 61.15,337.58 62.1,341.98 C63.05,346.38 63.95,350.94 64.9,355.18 C65.85,359.41 66.68,364.88 67.8,367.37 C68.92,369.86 70.5,368.91 71.6,370.13 C72.7,371.36 73.45,372.23 74.4,374.73 C75.35,377.23 75.72,383.43 77.3,385.13 C78.88,386.82 82.33,386.21 83.9,384.89 C85.47,383.56 85.75,379.28 86.7,377.18 C87.65,375.08 88.65,372.95 89.6,372.28 C90.55,371.61 91.13,375.27 92.4,373.18 C93.67,371.08 95.77,363.09 97.2,359.7 C98.63,356.32 99.9,354.34 101,352.86 C102.1,351.39 102.7,352.95 103.8,350.86 C104.9,348.77 106.17,340.84 107.6,340.32 C109.03,339.8 110.82,347.49 112.4,347.75 C113.98,348.01 115.37,343.99 117.1,341.88 C118.83,339.77 121.22,337.03 122.8,335.07 C124.38,333.11 125.33,331.76 126.6,330.13 C127.87,328.5 129.3,326.92 130.4,325.29 C131.5,323.67 132.25,320.59 133.2,320.39 C134.15,320.19 134.83,324.28 136.1,324.09 C137.37,323.89 139.22,319.27 140.8,319.22 C142.38,319.16 144.33,322.2 145.6,323.74 C146.87,325.28 147.45,329.57 148.4,328.44 C149.35,327.31 150.18,319.68 151.3,316.93 C152.42,314.19 153.83,314.26 155.1,312 C156.37,309.73 157.97,303.86 158.9,303.36 C159.83,302.86 159.92,308.39 160.7,308.99 C161.48,309.6 162.65,306.24 163.6,306.99 C164.55,307.74 165.93,312.41 166.4,313.5 L166.4,337.5 C165.93,336.39 164.55,331.63 163.6,330.81 C162.65,330 161.48,333.27 160.7,332.61 C159.92,331.95 159.83,326.41 158.9,326.84 C157.97,327.27 156.37,333.03 155.1,335.2 C153.83,337.37 152.42,337.21 151.3,339.87 C150.18,342.52 149.35,350.09 148.4,351.16 C147.45,352.23 146.87,347.89 145.6,346.26 C144.33,344.63 142.38,341.44 140.8,341.38 C139.22,341.33 137.37,345.81 136.1,345.91 C134.83,346.02 134.15,341.88 133.2,342.01 C132.25,342.14 131.5,345.16 130.4,346.71 C129.3,348.25 127.87,349.73 126.6,351.27 C125.33,352.8 124.38,354.09 122.8,355.93 C121.22,357.77 118.83,360.33 117.1,362.32 C115.37,364.31 113.98,368.23 112.4,367.85 C110.82,367.48 109.03,359.66 107.6,360.08 C106.17,360.49 104.9,368.33 103.8,370.34 C102.7,372.35 102.1,370.74 101,372.14 C99.9,373.53 98.63,375.42 97.2,378.7 C95.77,381.98 93.67,389.82 92.4,391.82 C91.13,393.83 90.55,390.12 89.6,390.72 C88.65,391.32 87.65,393.38 86.7,395.42 C85.75,397.45 85.47,401.7 83.9,402.91 C82.33,404.12 78.88,404.48 77.3,402.67 C75.72,400.87 75.35,394.64 74.4,392.07 C73.45,389.5 72.7,388.57 71.6,387.27 C70.5,385.96 68.92,386.8 67.8,384.23 C66.68,381.66 65.85,376.12 64.9,371.82 C63.95,367.52 63.05,362.89 62.1,358.42 C61.15,353.95 60.32,349.55 59.2,345.02 C58.08,340.48 56.98,333.5 55.4,331.2 C53.82,328.9 50.65,331.2 49.7,331.2 Z" fill="#e6d6ec" stroke="none" style="mix-blend-mode:multiply"/>
<path d="M193,324 C193.57,324.32 195.52,325.92 196.4,325.93 C197.28,325.94 197.2,327.82 198.3,324.05 C199.4,320.27 201.9,306.59 203,303.29 C204.1,299.98 203.95,300.56 204.9,304.2 C205.85,307.84 207.75,321.81 208.7,325.13 C209.65,328.46 209.65,326.04 210.6,324.15 C211.55,322.26 213.28,314.72 214.4,313.78 C215.52,312.84 216.35,316.45 217.3,318.51 C218.25,320.57 219,324.22 220.1,326.13 C221.2,328.04 222.8,328.37 223.9,329.96 C225,331.56 225.6,332.68 226.7,335.69 C227.8,338.7 229.23,345.79 230.5,348.02 C231.77,350.25 233.03,348.56 234.3,349.05 C235.57,349.55 236.83,349.56 238.1,350.99 C239.37,352.41 240.63,356.51 241.9,357.62 C243.17,358.73 244.58,357.79 245.7,357.65 C246.82,357.51 247.65,357.87 248.6,356.78 C249.55,355.68 250.13,354.89 251.4,351.1 C252.67,347.31 254.77,337.83 256.2,334.04 C257.63,330.25 258.58,330.09 260,328.37 C261.42,326.65 263.13,325.6 264.7,323.71 C266.27,321.83 268.13,318.94 269.4,317.05 C270.67,315.16 271.35,312.37 272.3,312.38 C273.25,312.39 274.15,315.68 275.1,317.1 C276.05,318.53 276.88,321.23 278,320.93 C279.12,320.62 280.53,316.35 281.8,315.26 C283.07,314.17 284.33,313.9 285.6,314.39 C286.87,314.89 287.98,316 289.4,318.22 C290.82,320.45 292.52,325.38 294.1,327.76 C295.68,330.14 297.32,332.34 298.9,332.51 C300.48,332.67 302.18,331.1 303.6,328.75 C305.02,326.39 306.3,321.37 307.4,318.38 C308.5,315.39 309.73,312.06 310.2,310.8 L310.2,330.8 C309.73,332.07 308.5,335.41 307.4,338.42 C306.3,341.43 305.02,346.48 303.6,348.85 C302.18,351.23 300.48,352.83 298.9,352.69 C297.32,352.56 295.68,350.39 294.1,348.04 C292.52,345.68 290.82,340.78 289.4,338.58 C287.98,336.37 286.87,335.28 285.6,334.81 C284.33,334.34 283.07,334.63 281.8,335.74 C280.53,336.85 279.12,341.15 278,341.47 C276.88,341.8 276.05,339.11 275.1,337.7 C274.15,336.29 273.25,333.01 272.3,333.02 C271.35,333.03 270.67,335.84 269.4,337.75 C268.13,339.66 266.27,342.57 264.7,344.49 C263.13,346.4 261.42,347.48 260,349.23 C258.58,350.97 257.63,351.15 256.2,354.96 C254.77,358.77 252.67,368.29 251.4,372.1 C250.13,375.91 249.55,376.72 248.6,377.82 C247.65,378.93 246.82,378.59 245.7,378.75 C244.58,378.91 243.17,379.87 241.9,378.78 C240.63,377.69 239.37,373.62 238.1,372.21 C236.83,370.81 235.57,370.82 234.3,370.35 C233.03,369.87 231.77,371.59 230.5,369.38 C229.23,367.17 227.8,360.1 226.7,357.11 C225.6,354.12 225,353.01 223.9,351.44 C222.8,349.86 221.2,349.56 220.1,347.67 C219,345.78 218.25,342.13 217.3,340.09 C216.35,338.05 215.52,334.46 214.4,335.42 C213.28,336.38 211.55,343.94 210.6,345.85 C209.65,347.76 209.65,350.17 208.7,346.87 C207.75,343.56 205.85,329.62 204.9,326 C203.95,322.37 204.1,321.79 203,325.11 C201.9,328.44 199.4,342.16 198.3,345.95 C197.2,349.75 197.28,347.86 196.4,347.87 C195.52,347.88 193.57,346.31 193,346 Z" fill="#e6d6ec" stroke="none" style="mix-blend-mode:multiply"/>
<path d="M384.7,331.2 C385.65,331.2 388.82,331.6 390.4,331.2 C391.98,330.8 393.08,326.99 394.2,328.78 C395.32,330.58 395.98,335.68 397.1,341.98 C398.22,348.27 399.63,361.37 400.9,366.54 C402.17,371.71 403.28,371.15 404.7,373 C406.12,374.85 407.67,377.37 409.4,377.62 C411.13,377.88 413.52,375.52 415.1,374.52 C416.68,373.51 417.48,373.99 418.9,371.58 C420.32,369.16 422.18,363.39 423.6,360 C425.02,356.62 425.82,354.01 427.4,351.26 C428.98,348.52 431.52,344.86 433.1,343.56 C434.68,342.25 435.63,342.05 436.9,343.42 C438.17,344.79 439.43,348.82 440.7,351.78 C441.97,354.73 442.75,360.42 444.5,361.14 C446.25,361.86 449.45,355.84 451.2,356.09 C452.95,356.34 453.58,363.17 455,362.65 C456.42,362.13 458.13,354.62 459.7,352.98 C461.27,351.34 463.13,352.39 464.4,352.81 C465.67,353.23 466.35,354.75 467.3,355.5 C468.25,356.25 468.83,358.44 470.1,357.3 C471.37,356.15 473.47,350.41 474.9,348.62 C476.33,346.84 477.28,347.9 478.7,346.58 C480.12,345.26 481.98,340.44 483.4,340.71 C484.82,340.97 485.93,346 487.2,348.17 C488.47,350.34 489.58,354.42 491,353.73 C492.42,353.04 494.43,346.64 495.7,344.06 C496.97,341.48 497.65,339.48 498.6,338.25 C499.55,337.03 500.93,336.96 501.4,336.7 L501.4,360.7 C500.93,360.94 499.55,360.97 498.6,362.15 C497.65,363.32 496.97,365.26 495.7,367.74 C494.43,370.23 492.42,376.49 491,377.07 C489.58,377.65 488.47,373.49 487.2,371.23 C485.93,368.97 484.82,363.86 483.4,363.49 C481.98,363.12 480.12,367.8 478.7,369.02 C477.28,370.23 476.33,369.1 474.9,370.78 C473.47,372.46 471.37,378.05 470.1,379.1 C468.83,380.16 468.25,377.92 467.3,377.1 C466.35,376.28 465.67,374.71 464.4,374.19 C463.13,373.68 461.27,372.5 459.7,374.02 C458.13,375.55 456.42,382.93 455,383.35 C453.58,383.76 452.95,376.89 451.2,376.51 C449.45,376.13 446.25,381.91 444.5,381.06 C442.75,380.22 441.97,374.47 440.7,371.42 C439.43,368.38 438.17,364.25 436.9,362.78 C435.63,361.32 434.68,361.45 433.1,362.64 C431.52,363.84 428.98,367.31 427.4,369.94 C425.82,372.56 425.02,375.11 423.6,378.4 C422.18,381.68 420.32,387.31 418.9,389.62 C417.48,391.94 416.68,391.39 415.1,392.28 C413.52,393.18 411.13,395.36 409.4,394.98 C407.67,394.59 406.12,391.95 404.7,390 C403.28,388.05 402.17,388.53 400.9,383.26 C399.63,378 398.22,364.8 397.1,358.42 C395.98,352.05 395.32,349.55 394.2,345.02 C393.08,340.48 391.98,333.5 390.4,331.2 C388.82,328.9 385.65,331.2 384.7,331.2 Z" fill="#e6d6ec" stroke="none" style="mix-blend-mode:multiply"/>
<path d="M528,332.6 C528.72,333.72 530.95,337.55 532.3,339.3 C533.65,341.05 534.83,342.32 536.1,343.1 C537.37,343.88 538.78,344.48 539.9,344 C541.02,343.52 541.53,342.42 542.8,340.2 C544.07,337.98 546.23,332.43 547.5,330.7 C548.77,328.97 549.6,329.17 550.4,329.8 C551.2,330.43 551.52,334.98 552.3,334.5 C553.08,334.02 554.17,329.58 555.1,326.9 C556.03,324.22 556.95,318.4 557.9,318.4 C558.85,318.4 559.53,322.95 560.8,326.9 C562.07,330.85 564.08,338.3 565.5,342.1 C566.92,345.9 568.03,348.75 569.3,349.7 C570.57,350.65 571.83,348.12 573.1,347.8 C574.37,347.48 575.32,345.9 576.9,347.8 C578.48,349.7 580.85,356.67 582.6,359.2 C584.35,361.73 585.97,362.62 587.4,363 C588.83,363.38 589.93,361.5 591.2,361.5 C592.47,361.5 593.43,363.23 595,363 C596.57,362.77 599.03,359.95 600.6,360.1 C602.17,360.25 602.82,362.47 604.4,363.9 C605.98,365.33 608.35,369.17 610.1,368.7 C611.85,368.23 613.15,364.9 614.9,361.1 C616.65,357.3 618.87,350.65 620.6,345.9 C622.33,341.15 623.88,335.77 625.3,332.6 C626.72,329.43 627.98,328.8 629.1,326.9 C630.22,325 630.58,323.1 632,321.2 C633.42,319.3 635.4,317.87 637.6,315.5 C639.8,313.13 643.93,308.42 645.2,307 L645.2,327 C643.93,328.42 639.8,333.13 637.6,335.5 C635.4,337.87 633.42,339.3 632,341.2 C630.58,343.1 630.22,345 629.1,346.9 C627.98,348.8 626.72,349.43 625.3,352.6 C623.88,355.77 622.33,361.15 620.6,365.9 C618.87,370.65 616.65,377.3 614.9,381.1 C613.15,384.9 611.85,388.23 610.1,388.7 C608.35,389.17 605.98,385.33 604.4,383.9 C602.82,382.47 602.17,380.25 600.6,380.1 C599.03,379.95 596.57,382.77 595,383 C593.43,383.23 592.47,381.5 591.2,381.5 C589.93,381.5 588.83,383.38 587.4,383 C585.97,382.62 584.35,381.73 582.6,379.2 C580.85,376.67 578.48,369.7 576.9,367.8 C575.32,365.9 574.37,367.48 573.1,367.8 C571.83,368.12 570.57,370.65 569.3,369.7 C568.03,368.75 566.92,365.9 565.5,362.1 C564.08,358.3 562.07,350.85 560.8,346.9 C559.53,342.95 558.85,338.4 557.9,338.4 C556.95,338.4 556.03,344.22 555.1,346.9 C554.17,349.58 553.08,354.02 552.3,354.5 C551.52,354.98 551.2,350.43 550.4,349.8 C549.6,349.17 548.77,348.97 547.5,350.7 C546.23,352.43 544.07,357.98 542.8,360.2 C541.53,362.42 541.02,363.52 539.9,364 C538.78,364.48 537.37,363.88 536.1,363.1 C534.83,362.32 533.65,361.05 532.3,359.3 C530.95,357.55 528.72,353.72 528,352.6 Z" fill="#e6d6ec" stroke="none" style="mix-blend-mode:multiply"/>
<path d="M49.7,331.2 C50.65,331.2 53.82,332.3 55.4,331.2 C56.98,330.1 57.93,327.28 59.2,324.6 C60.47,321.92 61.73,316.83 63,315.1 C64.27,313.37 65.05,317.83 66.8,314.2 C68.55,310.57 71.43,295.83 73.5,293.3 C75.57,290.77 77.62,298.68 79.2,299 C80.78,299.32 81.9,295.2 83,295.2 C84.1,295.2 84.7,295.68 85.8,299 C86.9,302.32 88.18,313.68 89.6,315.1 C91.02,316.52 92.88,308.28 94.3,307.5 C95.72,306.72 96.83,307.72 98.1,310.4 C99.37,313.08 100.32,321.23 101.9,323.6 C103.48,325.97 106.17,324.75 107.6,324.6 C109.03,324.45 109.38,322.07 110.5,322.7 C111.62,323.33 112.57,330.3 114.3,328.4 C116.03,326.5 119.33,313.35 120.9,311.3 C122.47,309.25 122.75,314.98 123.7,316.1 C124.65,317.22 125.65,316.75 126.6,318 C127.55,319.25 128.45,321.87 129.4,323.6 C130.35,325.33 131.18,329.03 132.3,328.4 C133.42,327.77 134.83,321.7 136.1,319.8 C137.37,317.9 138.63,315.1 139.9,317 C141.17,318.9 142.43,328.67 143.7,331.2 C144.97,333.73 146.4,334.1 147.5,332.2 C148.6,330.3 149.2,322.8 150.3,319.8 C151.4,316.8 152.98,315.13 154.1,314.2 C155.22,313.27 156.05,313.27 157,314.2 C157.95,315.13 158.7,320.6 159.8,319.8 C160.9,319 162.5,311.13 163.6,309.4 C164.7,307.67 165.93,309.4 166.4,309.4" fill="none" stroke="#5ea42f" stroke-width="1.8" stroke-linejoin="round" stroke-linecap="butt"/>
<path d="M193,344.5 C193.4,345.45 194.52,349.88 195.4,350.2 C196.28,350.52 197.03,345.6 198.3,346.4 C199.57,347.2 201.58,355.63 203,355 C204.42,354.37 205.68,346.57 206.8,342.6 C207.92,338.63 208.58,331.98 209.7,331.2 C210.82,330.42 212.4,336.63 213.5,337.9 C214.6,339.17 215.35,338.17 216.3,338.8 C217.25,339.43 218.25,342.33 219.2,341.7 C220.15,341.07 221.07,335.8 222,335 C222.93,334.2 223.7,334.52 224.8,336.9 C225.9,339.28 227.33,347.55 228.6,349.3 C229.87,351.05 231.13,348.52 232.4,347.4 C233.67,346.28 234.93,345.62 236.2,342.6 C237.47,339.58 238.1,333.1 240,329.3 C241.9,325.5 245.85,322.48 247.6,319.8 C249.35,317.12 249.55,317.3 250.5,313.2 C251.45,309.1 252.35,298.52 253.3,295.2 C254.25,291.88 255.4,293.3 256.2,293.3 C257,293.3 257.32,293.62 258.1,295.2 C258.88,296.78 259.97,301.22 260.9,302.8 C261.83,304.38 262.6,304.87 263.7,304.7 C264.8,304.53 266.55,302.12 267.5,301.8 C268.45,301.48 268.6,301.37 269.4,302.8 C270.2,304.23 271.18,308.67 272.3,310.4 C273.42,312.13 274.83,311.93 276.1,313.2 C277.37,314.47 278.8,316.1 279.9,318 C281,319.9 281.92,323.18 282.7,324.6 C283.48,326.02 283.65,326.67 284.6,326.5 C285.55,326.33 286.97,323.13 288.4,323.6 C289.83,324.07 291.77,327.08 293.2,329.3 C294.63,331.52 295.9,335.32 297,336.9 C298.1,338.48 298.7,340.07 299.8,338.8 C300.9,337.53 302.5,332.47 303.6,329.3 C304.7,326.13 305.3,320.75 306.4,319.8 C307.5,318.85 309.57,322.97 310.2,323.6" fill="none" stroke="#5ea42f" stroke-width="1.8" stroke-linejoin="round" stroke-linecap="butt"/>
<path d="M384.7,331.2 C385.65,331.2 388.97,331.67 390.4,331.2 C391.83,330.73 392.03,331.55 393.3,328.4 C394.57,325.25 396.42,316.88 398,312.3 C399.58,307.72 401.22,303.75 402.8,300.9 C404.38,298.05 405.77,295.52 407.5,295.2 C409.23,294.88 411.15,299.32 413.2,299 C415.25,298.68 417.9,294.1 419.8,293.3 C421.7,292.5 423.17,293.88 424.6,294.2 C426.03,294.52 427.3,294.08 428.4,295.2 C429.5,296.32 429.93,296.8 431.2,300.9 C432.47,305 433.93,318.85 436,319.8 C438.07,320.75 441.07,306.6 443.6,306.6 C446.13,306.6 448.83,315.07 451.2,319.8 C453.57,324.53 456.07,333.42 457.8,335 C459.53,336.58 460.5,332.45 461.6,329.3 C462.7,326.15 463.3,318.62 464.4,316.1 C465.5,313.58 466.77,316.27 468.2,314.2 C469.63,312.13 471.42,302.6 473,303.7 C474.58,304.8 476.28,319.37 477.7,320.8 C479.12,322.23 480.23,312.3 481.5,312.3 C482.77,312.3 483.87,321.75 485.3,320.8 C486.73,319.85 488.67,309.45 490.1,306.6 C491.53,303.75 492.65,302.6 493.9,303.7 C495.15,304.8 496.35,310.67 497.6,313.2 C498.85,315.73 500.77,317.95 501.4,318.9" fill="none" stroke="#5ea42f" stroke-width="1.8" stroke-linejoin="round" stroke-linecap="butt"/>
<path d="M528,334.1 C528.25,334.42 528.78,336.42 529.5,336 C530.22,335.58 531.2,331.45 532.3,331.6 C533.4,331.75 534.98,334.58 536.1,336.9 C537.22,339.22 537.88,346.13 539,345.5 C540.12,344.87 541.38,338.17 542.8,333.1 C544.22,328.03 546.23,317.15 547.5,315.1 C548.77,313.05 549.45,319.53 550.4,320.8 C551.35,322.07 552.25,321.12 553.2,322.7 C554.15,324.28 555.15,328.72 556.1,330.3 C557.05,331.88 557.8,331.42 558.9,332.2 C560,332.98 561.28,336.12 562.7,335 C564.12,333.88 565.98,326.77 567.4,325.5 C568.82,324.23 569.93,325.97 571.2,327.4 C572.47,328.83 573.57,335.05 575,334.1 C576.43,333.15 578.37,323.92 579.8,321.7 C581.23,319.48 582.18,322.22 583.6,320.8 C585.02,319.38 586.88,313.98 588.3,313.2 C589.72,312.42 590.98,316.25 592.1,316.1 C593.22,315.95 593.9,314.68 595,312.3 C596.1,309.92 597.28,304.5 598.7,301.8 C600.12,299.1 602.07,297.68 603.5,296.1 C604.93,294.52 606.03,292.45 607.3,292.3 C608.57,292.15 609.68,292.5 611.1,295.2 C612.52,297.9 614.07,303.6 615.8,308.5 C617.53,313.4 619.92,320.97 621.5,324.6 C623.08,328.23 624.03,329.35 625.3,330.3 C626.57,331.25 627.67,328.4 629.1,330.3 C630.53,332.2 632.48,339.65 633.9,341.7 C635.32,343.75 636.35,343.08 637.6,342.6 C638.85,342.12 640.13,339.12 641.4,338.8 C642.67,338.48 644.57,340.38 645.2,340.7" fill="none" stroke="#5ea42f" stroke-width="1.8" stroke-linejoin="round" stroke-linecap="butt"/>
<path d="M49.7,331.2 C50.65,331.2 53.82,330.25 55.4,331.2 C56.98,332.15 58.08,333.73 59.2,336.9 C60.32,340.07 61.15,345.77 62.1,350.2 C63.05,354.63 63.95,359.23 64.9,363.5 C65.85,367.77 66.68,373.27 67.8,375.8 C68.92,378.33 70.5,377.43 71.6,378.7 C72.7,379.97 73.45,380.87 74.4,383.4 C75.35,385.93 75.72,392.15 77.3,393.9 C78.88,395.65 82.33,395.17 83.9,393.9 C85.47,392.63 85.75,388.37 86.7,386.3 C87.65,384.23 88.65,382.13 89.6,381.5 C90.55,380.87 91.13,384.55 92.4,382.5 C93.67,380.45 95.77,372.53 97.2,369.2 C98.63,365.87 99.9,363.93 101,362.5 C102.1,361.07 102.7,362.65 103.8,360.6 C104.9,358.55 106.17,350.67 107.6,350.2 C109.03,349.73 110.82,357.48 112.4,357.8 C113.98,358.12 115.37,354.15 117.1,352.1 C118.83,350.05 121.22,347.4 122.8,345.5 C124.38,343.6 125.33,342.28 126.6,340.7 C127.87,339.12 129.3,337.58 130.4,336 C131.5,334.42 132.25,331.37 133.2,331.2 C134.15,331.03 134.83,335.15 136.1,335 C137.37,334.85 139.22,330.3 140.8,330.3 C142.38,330.3 144.33,333.42 145.6,335 C146.87,336.58 147.45,340.9 148.4,339.8 C149.35,338.7 150.18,331.1 151.3,328.4 C152.42,325.7 153.83,325.82 155.1,323.6 C156.37,321.38 157.97,315.57 158.9,315.1 C159.83,314.63 159.92,320.17 160.7,320.8 C161.48,321.43 162.65,318.12 163.6,318.9 C164.55,319.68 165.93,324.4 166.4,325.5" fill="none" stroke="#7b2d91" stroke-width="1.8" stroke-linejoin="round" stroke-linecap="butt"/>
<path d="M193,335 C193.57,335.32 195.52,336.9 196.4,336.9 C197.28,336.9 197.2,338.78 198.3,335 C199.4,331.22 201.9,317.52 203,314.2 C204.1,310.88 203.95,311.47 204.9,315.1 C205.85,318.73 207.75,332.68 208.7,336 C209.65,339.32 209.65,336.9 210.6,335 C211.55,333.1 213.28,325.55 214.4,324.6 C215.52,323.65 216.35,327.25 217.3,329.3 C218.25,331.35 219,335 220.1,336.9 C221.2,338.8 222.8,339.12 223.9,340.7 C225,342.28 225.6,343.4 226.7,346.4 C227.8,349.4 229.23,356.48 230.5,358.7 C231.77,360.92 233.03,359.22 234.3,359.7 C235.57,360.18 236.83,360.18 238.1,361.6 C239.37,363.02 240.63,367.1 241.9,368.2 C243.17,369.3 244.58,368.35 245.7,368.2 C246.82,368.05 247.65,368.4 248.6,367.3 C249.55,366.2 250.13,365.4 251.4,361.6 C252.67,357.8 254.77,348.3 256.2,344.5 C257.63,340.7 258.58,340.53 260,338.8 C261.42,337.07 263.13,336 264.7,334.1 C266.27,332.2 268.13,329.3 269.4,327.4 C270.67,325.5 271.35,322.7 272.3,322.7 C273.25,322.7 274.15,325.98 275.1,327.4 C276.05,328.82 276.88,331.52 278,331.2 C279.12,330.88 280.53,326.6 281.8,325.5 C283.07,324.4 284.33,324.12 285.6,324.6 C286.87,325.08 287.98,326.18 289.4,328.4 C290.82,330.62 292.52,335.53 294.1,337.9 C295.68,340.27 297.32,342.45 298.9,342.6 C300.48,342.75 302.18,341.17 303.6,338.8 C305.02,336.43 306.3,331.4 307.4,328.4 C308.5,325.4 309.73,322.07 310.2,320.8" fill="none" stroke="#7b2d91" stroke-width="1.8" stroke-linejoin="round" stroke-linecap="butt"/>
<path d="M384.7,331.2 C385.65,331.2 388.82,330.25 390.4,331.2 C391.98,332.15 393.08,333.73 394.2,336.9 C395.32,340.07 395.98,343.87 397.1,350.2 C398.22,356.53 399.63,369.68 400.9,374.9 C402.17,380.12 403.28,379.6 404.7,381.5 C406.12,383.4 407.67,385.98 409.4,386.3 C411.13,386.62 413.52,384.35 415.1,383.4 C416.68,382.45 417.48,382.97 418.9,380.6 C420.32,378.23 422.18,372.53 423.6,369.2 C425.02,365.87 425.82,363.28 427.4,360.6 C428.98,357.92 431.52,354.35 433.1,353.1 C434.68,351.85 435.63,351.68 436.9,353.1 C438.17,354.52 439.43,358.6 440.7,361.6 C441.97,364.6 442.75,370.32 444.5,371.1 C446.25,371.88 449.45,365.98 451.2,366.3 C452.95,366.62 453.58,373.47 455,373 C456.42,372.53 458.13,365.08 459.7,363.5 C461.27,361.92 463.13,363.03 464.4,363.5 C465.67,363.97 466.35,365.52 467.3,366.3 C468.25,367.08 468.83,369.3 470.1,368.2 C471.37,367.1 473.47,361.43 474.9,359.7 C476.33,357.97 477.28,359.07 478.7,357.8 C480.12,356.53 481.98,351.78 483.4,352.1 C484.82,352.42 485.93,357.48 487.2,359.7 C488.47,361.92 489.58,366.03 491,365.4 C492.42,364.77 494.43,358.43 495.7,355.9 C496.97,353.37 497.65,351.4 498.6,350.2 C499.55,349 500.93,348.95 501.4,348.7" fill="none" stroke="#7b2d91" stroke-width="1.8" stroke-linejoin="round" stroke-linecap="butt"/>
<path d="M528,342.6 C528.72,343.72 530.95,347.55 532.3,349.3 C533.65,351.05 534.83,352.32 536.1,353.1 C537.37,353.88 538.78,354.48 539.9,354 C541.02,353.52 541.53,352.42 542.8,350.2 C544.07,347.98 546.23,342.43 547.5,340.7 C548.77,338.97 549.6,339.17 550.4,339.8 C551.2,340.43 551.52,344.98 552.3,344.5 C553.08,344.02 554.17,339.58 555.1,336.9 C556.03,334.22 556.95,328.4 557.9,328.4 C558.85,328.4 559.53,332.95 560.8,336.9 C562.07,340.85 564.08,348.3 565.5,352.1 C566.92,355.9 568.03,358.75 569.3,359.7 C570.57,360.65 571.83,358.12 573.1,357.8 C574.37,357.48 575.32,355.9 576.9,357.8 C578.48,359.7 580.85,366.67 582.6,369.2 C584.35,371.73 585.97,372.62 587.4,373 C588.83,373.38 589.93,371.5 591.2,371.5 C592.47,371.5 593.43,373.23 595,373 C596.57,372.77 599.03,369.95 600.6,370.1 C602.17,370.25 602.82,372.47 604.4,373.9 C605.98,375.33 608.35,379.17 610.1,378.7 C611.85,378.23 613.15,374.9 614.9,371.1 C616.65,367.3 618.87,360.65 620.6,355.9 C622.33,351.15 623.88,345.77 625.3,342.6 C626.72,339.43 627.98,338.8 629.1,336.9 C630.22,335 630.58,333.1 632,331.2 C633.42,329.3 635.4,327.87 637.6,325.5 C639.8,323.13 643.93,318.42 645.2,317" fill="none" stroke="#7b2d91" stroke-width="1.8" stroke-linejoin="round" stroke-linecap="butt"/>
<text x="241.9" y="391.3" font-size="10.5" text-anchor="start" font-weight="normal" fill="#231f20" textLength="57" lengthAdjust="spacingAndGlyphs">Choice, bet</text>
<line x1="228.2" y1="401.1" x2="238.2" y2="401.1" stroke="#5ea42f" stroke-width="1.5" stroke-linecap="butt"/>
<text x="242.6" y="404.02" font-size="9.5" text-anchor="start" font-weight="normal" fill="#231f20">Right, high-low</text>
<line x1="228.2" y1="413.5" x2="238.2" y2="413.5" stroke="#7b2d91" stroke-width="1.5" stroke-linecap="butt"/>
<text x="242.6" y="416.42" font-size="9.5" text-anchor="start" font-weight="normal" fill="#231f20">Left, high-low</text>
<line x1="44.1" y1="496" x2="44.1" y2="674.7" stroke="#7a7a7a" stroke-width="0.9" stroke-linecap="butt"/>
<line x1="39.6" y1="496.2" x2="44.1" y2="496.2" stroke="#7a7a7a" stroke-width="0.9" stroke-linecap="butt"/>
<text transform="translate(34.6 499.06) scale(0.95 1)" font-size="9.54" text-anchor="end" fill="#231f20">0.5</text>
<line x1="39.6" y1="532" x2="44.1" y2="532" stroke="#7a7a7a" stroke-width="0.9" stroke-linecap="butt"/>
<text transform="translate(34.6 534.86) scale(0.95 1)" font-size="9.54" text-anchor="end" fill="#231f20">0.4</text>
<line x1="39.6" y1="567.5" x2="44.1" y2="567.5" stroke="#7a7a7a" stroke-width="0.9" stroke-linecap="butt"/>
<text transform="translate(34.6 570.36) scale(0.95 1)" font-size="9.54" text-anchor="end" fill="#231f20">0.3</text>
<line x1="39.6" y1="603.2" x2="44.1" y2="603.2" stroke="#7a7a7a" stroke-width="0.9" stroke-linecap="butt"/>
<text transform="translate(34.6 606.06) scale(0.95 1)" font-size="9.54" text-anchor="end" fill="#231f20">0.2</text>
<line x1="39.6" y1="638.8" x2="44.1" y2="638.8" stroke="#7a7a7a" stroke-width="0.9" stroke-linecap="butt"/>
<text transform="translate(34.6 641.66) scale(0.95 1)" font-size="9.54" text-anchor="end" fill="#231f20">0.1</text>
<line x1="39.6" y1="674.7" x2="44.1" y2="674.7" stroke="#7a7a7a" stroke-width="0.9" stroke-linecap="butt"/>
<text transform="translate(34.6 677.56) scale(0.95 1)" font-size="9.54" text-anchor="end" fill="#231f20">0</text>
<line x1="44.1" y1="674.7" x2="211.5" y2="674.7" stroke="#7a7a7a" stroke-width="0.9" stroke-linecap="butt"/>
<line x1="44.1" y1="674.7" x2="44.1" y2="678.7" stroke="#7a7a7a" stroke-width="0.9" stroke-linecap="butt"/>
<line x1="115.9" y1="674.7" x2="115.9" y2="678.7" stroke="#7a7a7a" stroke-width="0.9" stroke-linecap="butt"/>
<line x1="187.7" y1="674.7" x2="187.7" y2="678.7" stroke="#7a7a7a" stroke-width="0.9" stroke-linecap="butt"/>
<line x1="44.1" y1="719" x2="44.1" y2="898.6" stroke="#7a7a7a" stroke-width="0.9" stroke-linecap="butt"/>
<line x1="39.6" y1="719.6" x2="44.1" y2="719.6" stroke="#7a7a7a" stroke-width="0.9" stroke-linecap="butt"/>
<text transform="translate(34.6 722.46) scale(0.95 1)" font-size="9.54" text-anchor="end" fill="#231f20">0.5</text>
<line x1="39.6" y1="755.4" x2="44.1" y2="755.4" stroke="#7a7a7a" stroke-width="0.9" stroke-linecap="butt"/>
<text transform="translate(34.6 758.26) scale(0.95 1)" font-size="9.54" text-anchor="end" fill="#231f20">0.4</text>
<line x1="39.6" y1="791.2" x2="44.1" y2="791.2" stroke="#7a7a7a" stroke-width="0.9" stroke-linecap="butt"/>
<text transform="translate(34.6 794.06) scale(0.95 1)" font-size="9.54" text-anchor="end" fill="#231f20">0.3</text>
<line x1="39.6" y1="827" x2="44.1" y2="827" stroke="#7a7a7a" stroke-width="0.9" stroke-linecap="butt"/>
<text transform="translate(34.6 829.86) scale(0.95 1)" font-size="9.54" text-anchor="end" fill="#231f20">0.2</text>
<line x1="39.6" y1="862.8" x2="44.1" y2="862.8" stroke="#7a7a7a" stroke-width="0.9" stroke-linecap="butt"/>
<text transform="translate(34.6 865.66) scale(0.95 1)" font-size="9.54" text-anchor="end" fill="#231f20">0.1</text>
<line x1="39.6" y1="898.6" x2="44.1" y2="898.6" stroke="#7a7a7a" stroke-width="0.9" stroke-linecap="butt"/>
<text transform="translate(34.6 901.46) scale(0.95 1)" font-size="9.54" text-anchor="end" fill="#231f20">0</text>
<line x1="44.1" y1="898.6" x2="211.5" y2="898.6" stroke="#7a7a7a" stroke-width="0.9" stroke-linecap="butt"/>
<line x1="44.1" y1="898.6" x2="44.1" y2="902.6" stroke="#7a7a7a" stroke-width="0.9" stroke-linecap="butt"/>
<text transform="translate(44.1 914.36) scale(0.95 1)" font-size="9.54" text-anchor="middle" fill="#231f20">0</text>
<line x1="115.9" y1="898.6" x2="115.9" y2="902.6" stroke="#7a7a7a" stroke-width="0.9" stroke-linecap="butt"/>
<text transform="translate(115.9 914.36) scale(0.95 1)" font-size="9.54" text-anchor="middle" fill="#231f20">25.6</text>
<line x1="187.7" y1="898.6" x2="187.7" y2="902.6" stroke="#7a7a7a" stroke-width="0.9" stroke-linecap="butt"/>
<text transform="translate(187.7 914.36) scale(0.95 1)" font-size="9.54" text-anchor="middle" fill="#231f20">51.2</text>
<line x1="278.3" y1="496.1" x2="278.3" y2="674.8" stroke="#7a7a7a" stroke-width="0.9" stroke-linecap="butt"/>
<line x1="273.8" y1="496.1" x2="278.3" y2="496.1" stroke="#7a7a7a" stroke-width="0.9" stroke-linecap="butt"/>
<text transform="translate(269.2 499.03) scale(0.84 1)" font-size="9.75" text-anchor="end" fill="#231f20">0.15</text>
<line x1="273.8" y1="555.6" x2="278.3" y2="555.6" stroke="#7a7a7a" stroke-width="0.9" stroke-linecap="butt"/>
<text transform="translate(269.2 558.53) scale(0.84 1)" font-size="9.75" text-anchor="end" fill="#231f20">0.1</text>
<line x1="273.8" y1="615.1" x2="278.3" y2="615.1" stroke="#7a7a7a" stroke-width="0.9" stroke-linecap="butt"/>
<text transform="translate(269.2 618.03) scale(0.84 1)" font-size="9.75" text-anchor="end" fill="#231f20">0.05</text>
<line x1="273.8" y1="674.8" x2="278.3" y2="674.8" stroke="#7a7a7a" stroke-width="0.9" stroke-linecap="butt"/>
<text transform="translate(269.2 677.73) scale(0.84 1)" font-size="9.75" text-anchor="end" fill="#231f20">0</text>
<line x1="278.3" y1="674.8" x2="446.7" y2="674.8" stroke="#7a7a7a" stroke-width="0.9" stroke-linecap="butt"/>
<line x1="278.3" y1="674.8" x2="278.3" y2="678.8" stroke="#7a7a7a" stroke-width="0.9" stroke-linecap="butt"/>
<line x1="350.1" y1="674.8" x2="350.1" y2="678.8" stroke="#7a7a7a" stroke-width="0.9" stroke-linecap="butt"/>
<line x1="421.9" y1="674.8" x2="421.9" y2="678.8" stroke="#7a7a7a" stroke-width="0.9" stroke-linecap="butt"/>
<line x1="278.6" y1="719" x2="278.6" y2="898.5" stroke="#7a7a7a" stroke-width="0.9" stroke-linecap="butt"/>
<line x1="274.1" y1="719.1" x2="278.6" y2="719.1" stroke="#7a7a7a" stroke-width="0.9" stroke-linecap="butt"/>
<text transform="translate(269.2 722.03) scale(0.84 1)" font-size="9.75" text-anchor="end" fill="#231f20">0.15</text>
<line x1="274.1" y1="778.9" x2="278.6" y2="778.9" stroke="#7a7a7a" stroke-width="0.9" stroke-linecap="butt"/>
<text transform="translate(269.2 781.83) scale(0.84 1)" font-size="9.75" text-anchor="end" fill="#231f20">0.1</text>
<line x1="274.1" y1="838.7" x2="278.6" y2="838.7" stroke="#7a7a7a" stroke-width="0.9" stroke-linecap="butt"/>
<text transform="translate(269.2 841.63) scale(0.84 1)" font-size="9.75" text-anchor="end" fill="#231f20">0.05</text>
<line x1="274.1" y1="898.5" x2="278.6" y2="898.5" stroke="#7a7a7a" stroke-width="0.9" stroke-linecap="butt"/>
<text transform="translate(269.2 901.43) scale(0.84 1)" font-size="9.75" text-anchor="end" fill="#231f20">0</text>
<line x1="278.6" y1="898.5" x2="446.7" y2="898.5" stroke="#7a7a7a" stroke-width="0.9" stroke-linecap="butt"/>
<line x1="278.6" y1="898.5" x2="278.6" y2="902.5" stroke="#7a7a7a" stroke-width="0.9" stroke-linecap="butt"/>
<text transform="translate(278.6 914.26) scale(0.95 1)" font-size="9.54" text-anchor="middle" fill="#231f20">0</text>
<line x1="350.4" y1="898.5" x2="350.4" y2="902.5" stroke="#7a7a7a" stroke-width="0.9" stroke-linecap="butt"/>
<text transform="translate(350.4 914.26) scale(0.95 1)" font-size="9.54" text-anchor="middle" fill="#231f20">25.6</text>
<line x1="422.2" y1="898.5" x2="422.2" y2="902.5" stroke="#7a7a7a" stroke-width="0.9" stroke-linecap="butt"/>
<text transform="translate(422.2 914.26) scale(0.95 1)" font-size="9.54" text-anchor="middle" fill="#231f20">51.2</text>
<line x1="512.7" y1="495.6" x2="512.7" y2="675.2" stroke="#7a7a7a" stroke-width="0.9" stroke-linecap="butt"/>
<line x1="508.2" y1="495.6" x2="512.7" y2="495.6" stroke="#7a7a7a" stroke-width="0.9" stroke-linecap="butt"/>
<text transform="translate(503.8 498.59) scale(1.0 1)" font-size="9.96" text-anchor="end" fill="#231f20">0.04</text>
<line x1="508.2" y1="540.5" x2="512.7" y2="540.5" stroke="#7a7a7a" stroke-width="0.9" stroke-linecap="butt"/>
<text transform="translate(503.8 543.49) scale(1.0 1)" font-size="9.96" text-anchor="end" fill="#231f20">0.03</text>
<line x1="508.2" y1="585.4" x2="512.7" y2="585.4" stroke="#7a7a7a" stroke-width="0.9" stroke-linecap="butt"/>
<text transform="translate(503.8 588.39) scale(1.0 1)" font-size="9.96" text-anchor="end" fill="#231f20">0.02</text>
<line x1="508.2" y1="630.3" x2="512.7" y2="630.3" stroke="#7a7a7a" stroke-width="0.9" stroke-linecap="butt"/>
<text transform="translate(503.8 633.29) scale(1.0 1)" font-size="9.96" text-anchor="end" fill="#231f20">0.01</text>
<line x1="508.2" y1="675.2" x2="512.7" y2="675.2" stroke="#7a7a7a" stroke-width="0.9" stroke-linecap="butt"/>
<text transform="translate(503.8 678.19) scale(1.0 1)" font-size="9.96" text-anchor="end" fill="#231f20">0</text>
<line x1="512.7" y1="675.2" x2="680.9" y2="675.2" stroke="#7a7a7a" stroke-width="0.9" stroke-linecap="butt"/>
<line x1="512.7" y1="675.2" x2="512.7" y2="679.2" stroke="#7a7a7a" stroke-width="0.9" stroke-linecap="butt"/>
<line x1="584.5" y1="675.2" x2="584.5" y2="679.2" stroke="#7a7a7a" stroke-width="0.9" stroke-linecap="butt"/>
<line x1="656.3" y1="675.2" x2="656.3" y2="679.2" stroke="#7a7a7a" stroke-width="0.9" stroke-linecap="butt"/>
<line x1="512.7" y1="719.5" x2="512.7" y2="898.5" stroke="#7a7a7a" stroke-width="0.9" stroke-linecap="butt"/>
<line x1="508.2" y1="719.7" x2="512.7" y2="719.7" stroke="#7a7a7a" stroke-width="0.9" stroke-linecap="butt"/>
<text transform="translate(503.8 722.69) scale(1.0 1)" font-size="9.96" text-anchor="end" fill="#231f20">0.04</text>
<line x1="508.2" y1="764.4" x2="512.7" y2="764.4" stroke="#7a7a7a" stroke-width="0.9" stroke-linecap="butt"/>
<text transform="translate(503.8 767.39) scale(1.0 1)" font-size="9.96" text-anchor="end" fill="#231f20">0.03</text>
<line x1="508.2" y1="809.1" x2="512.7" y2="809.1" stroke="#7a7a7a" stroke-width="0.9" stroke-linecap="butt"/>
<text transform="translate(503.8 812.09) scale(1.0 1)" font-size="9.96" text-anchor="end" fill="#231f20">0.02</text>
<line x1="508.2" y1="853.8" x2="512.7" y2="853.8" stroke="#7a7a7a" stroke-width="0.9" stroke-linecap="butt"/>
<text transform="translate(503.8 856.79) scale(1.0 1)" font-size="9.96" text-anchor="end" fill="#231f20">0.01</text>
<line x1="508.2" y1="898.5" x2="512.7" y2="898.5" stroke="#7a7a7a" stroke-width="0.9" stroke-linecap="butt"/>
<text transform="translate(503.8 901.49) scale(1.0 1)" font-size="9.96" text-anchor="end" fill="#231f20">0</text>
<line x1="512.7" y1="898.5" x2="680.7" y2="898.5" stroke="#7a7a7a" stroke-width="0.9" stroke-linecap="butt"/>
<line x1="512.7" y1="898.5" x2="512.7" y2="902.5" stroke="#7a7a7a" stroke-width="0.9" stroke-linecap="butt"/>
<text transform="translate(512.7 914.26) scale(0.95 1)" font-size="9.54" text-anchor="middle" fill="#231f20">0</text>
<line x1="584.5" y1="898.5" x2="584.5" y2="902.5" stroke="#7a7a7a" stroke-width="0.9" stroke-linecap="butt"/>
<text transform="translate(584.5 914.26) scale(0.95 1)" font-size="9.54" text-anchor="middle" fill="#231f20">25.6</text>
<line x1="656.3" y1="898.5" x2="656.3" y2="902.5" stroke="#7a7a7a" stroke-width="0.9" stroke-linecap="butt"/>
<text transform="translate(656.3 914.26) scale(0.95 1)" font-size="9.54" text-anchor="middle" fill="#231f20">51.2</text>
<polyline points="43.8,674.5 52.8,674.2 61.8,673.3 79.7,669.5 115.6,643.8 187.4,582.5" fill="none" stroke="#ff1414" stroke-width="2.5" stroke-linejoin="round" stroke-linecap="round"/>
<line x1="79.7" y1="666.6" x2="79.7" y2="671.8" stroke="#ff1414" stroke-width="2.0" stroke-linecap="butt"/>
<rect x="77.7" y="665.4" width="4" height="2.4" rx="0.8" fill="#ff1414"/>
<rect x="77.7" y="670.6" width="4" height="2.4" rx="0.8" fill="#ff1414"/>
<line x1="115.6" y1="630" x2="115.6" y2="657.2" stroke="#ff1414" stroke-width="2.0" stroke-linecap="butt"/>
<rect x="113.6" y="628.8" width="4" height="2.4" rx="0.8" fill="#ff1414"/>
<rect x="113.6" y="656" width="4" height="2.4" rx="0.8" fill="#ff1414"/>
<line x1="187.4" y1="548" x2="187.4" y2="614.9" stroke="#ff1414" stroke-width="2.0" stroke-linecap="butt"/>
<rect x="185.4" y="546.8" width="4" height="2.4" rx="0.8" fill="#ff1414"/>
<rect x="185.4" y="613.7" width="4" height="2.4" rx="0.8" fill="#ff1414"/>
<polyline points="43.8,674.6 187.4,674.6" fill="none" stroke="#8a0f14" stroke-width="2.6" stroke-linejoin="round" stroke-linecap="round"/>
<polyline points="43.8,892.8 52.8,892.2 61.8,888.7 79.7,883.4 115.6,865.3 187.4,764.7" fill="none" stroke="#ff1414" stroke-width="2.5" stroke-linejoin="round" stroke-linecap="round"/>
<line x1="43.8" y1="891.2" x2="43.8" y2="894.4" stroke="#ff1414" stroke-width="2.4" stroke-linecap="butt"/>
<rect x="42" y="889.9" width="3.6" height="2.6" rx="0.8" fill="#ff1414"/>
<rect x="42" y="893.1" width="3.6" height="2.6" rx="0.8" fill="#ff1414"/>
<line x1="52.8" y1="890.9" x2="52.8" y2="893.5" stroke="#ff1414" stroke-width="2.4" stroke-linecap="butt"/>
<rect x="51" y="889.7" width="3.6" height="2.4" rx="0.8" fill="#ff1414"/>
<rect x="51" y="892.3" width="3.6" height="2.4" rx="0.8" fill="#ff1414"/>
<line x1="61.8" y1="887.2" x2="61.8" y2="890.2" stroke="#ff1414" stroke-width="2.4" stroke-linecap="butt"/>
<rect x="60" y="885.9" width="3.6" height="2.6" rx="0.8" fill="#ff1414"/>
<rect x="60" y="888.9" width="3.6" height="2.6" rx="0.8" fill="#ff1414"/>
<line x1="79.7" y1="881.4" x2="79.7" y2="885.4" stroke="#ff1414" stroke-width="2.4" stroke-linecap="butt"/>
<rect x="77.8" y="880" width="3.8" height="2.8" rx="0.8" fill="#ff1414"/>
<rect x="77.8" y="884" width="3.8" height="2.8" rx="0.8" fill="#ff1414"/>
<line x1="115.6" y1="859.2" x2="115.6" y2="870.3" stroke="#ff1414" stroke-width="2.0" stroke-linecap="butt"/>
<rect x="113.6" y="858" width="4" height="2.4" rx="0.8" fill="#ff1414"/>
<rect x="113.6" y="869.1" width="4" height="2.4" rx="0.8" fill="#ff1414"/>
<line x1="187.4" y1="744.8" x2="187.4" y2="783.6" stroke="#ff1414" stroke-width="2.0" stroke-linecap="butt"/>
<rect x="185.4" y="743.6" width="4" height="2.4" rx="0.8" fill="#ff1414"/>
<rect x="185.4" y="782.4" width="4" height="2.4" rx="0.8" fill="#ff1414"/>
<polyline points="43.8,894.5 52.8,897.2 79.7,898.4 115.6,898.5 187.4,898.5" fill="none" stroke="#8a0f14" stroke-width="2.6" stroke-linejoin="round" stroke-linecap="round"/>
<line x1="50.9" y1="499.7" x2="70.7" y2="499.7" stroke="#ff1414" stroke-width="2.0" stroke-linecap="butt"/>
<line x1="60.8" y1="495.2" x2="60.8" y2="504.2" stroke="#ff1414" stroke-width="1.8" stroke-linecap="butt"/>
<rect x="58.8" y="494.2" width="4" height="2" rx="0.8" fill="#ff1414"/>
<rect x="58.8" y="503.2" width="4" height="2" rx="0.8" fill="#ff1414"/>
<line x1="50.9" y1="512.6" x2="70.7" y2="512.6" stroke="#8a0f14" stroke-width="2.0" stroke-linecap="butt"/>
<line x1="60.8" y1="508.1" x2="60.8" y2="517.1" stroke="#8a0f14" stroke-width="1.8" stroke-linecap="butt"/>
<rect x="58.8" y="507.1" width="4" height="2" rx="0.8" fill="#8a0f14"/>
<rect x="58.8" y="516.1" width="4" height="2" rx="0.8" fill="#8a0f14"/>
<text x="74.9" y="503.23" font-size="9.8" text-anchor="start" font-weight="normal" fill="#231f20" textLength="88.4" lengthAdjust="spacingAndGlyphs">Initial error to correct</text>
<text x="74.9" y="516.13" font-size="9.8" text-anchor="start" font-weight="normal" fill="#231f20" textLength="88.4" lengthAdjust="spacingAndGlyphs">Initial correct to error</text>
<line x1="63.7" y1="542.1" x2="63.7" y2="593.3" stroke="#7a7a7a" stroke-width="0.8" stroke-linecap="butt"/>
<line x1="61.4" y1="542.3" x2="63.7" y2="542.3" stroke="#7a7a7a" stroke-width="0.8" stroke-linecap="butt"/>
<text transform="translate(58.1 545) scale(0.95 1)" font-size="9.01" text-anchor="end" fill="#231f20">3</text>
<line x1="61.4" y1="559.4" x2="63.7" y2="559.4" stroke="#7a7a7a" stroke-width="0.8" stroke-linecap="butt"/>
<text transform="translate(58.1 562.1) scale(0.95 1)" font-size="9.01" text-anchor="end" fill="#231f20">2</text>
<line x1="61.4" y1="576.2" x2="63.7" y2="576.2" stroke="#7a7a7a" stroke-width="0.8" stroke-linecap="butt"/>
<text transform="translate(58.1 578.9) scale(0.95 1)" font-size="9.01" text-anchor="end" fill="#231f20">1</text>
<line x1="61.4" y1="593.3" x2="63.7" y2="593.3" stroke="#7a7a7a" stroke-width="0.8" stroke-linecap="butt"/>
<text transform="translate(58.1 596) scale(0.95 1)" font-size="9.01" text-anchor="end" fill="#231f20">0</text>
<line x1="63.7" y1="593.3" x2="127.8" y2="593.3" stroke="#7a7a7a" stroke-width="0.8" stroke-linecap="butt"/>
<polyline points="64,557 67.7,582 71.7,593.3 79.7,593.3 95.7,593.3 127.7,593.3" fill="none" stroke="#8a0f14" stroke-width="1.6" stroke-linejoin="round" stroke-linecap="round"/>
<line x1="64" y1="546.7" x2="64" y2="570.3" stroke="#8a0f14" stroke-width="1.2" stroke-linecap="butt"/>
<rect x="62.9" y="546" width="2.2" height="1.4" rx="0.8" fill="#8a0f14"/>
<rect x="62.9" y="569.6" width="2.2" height="1.4" rx="0.8" fill="#8a0f14"/>
<line x1="67.7" y1="577" x2="67.7" y2="588" stroke="#8a0f14" stroke-width="1.2" stroke-linecap="butt"/>
<rect x="66.6" y="576.3" width="2.2" height="1.4" rx="0.8" fill="#8a0f14"/>
<rect x="66.6" y="587.3" width="2.2" height="1.4" rx="0.8" fill="#8a0f14"/>
<text transform="translate(63.4 605.2) scale(0.95 1)" font-size="9.01" text-anchor="middle" fill="#231f20">0</text>
<text transform="translate(93.9 605.2) scale(0.95 1)" font-size="9.01" text-anchor="middle" fill="#231f20">25.6</text>
<text transform="translate(124.5 605.2) scale(0.95 1)" font-size="9.01" text-anchor="middle" fill="#231f20">51.2</text>
<text transform="translate(63 538.3) scale(0.92 1)" font-size="10.8" text-anchor="start" fill="#231f20">×10</text>
<text transform="translate(79.6 533.6) scale(0.92 1)" font-size="7.8" text-anchor="start" fill="#231f20">−3</text>
<line x1="64.8" y1="729.6" x2="64.8" y2="781.6" stroke="#7a7a7a" stroke-width="0.8" stroke-linecap="butt"/>
<line x1="62.5" y1="729.6" x2="64.8" y2="729.6" stroke="#7a7a7a" stroke-width="0.8" stroke-linecap="butt"/>
<text transform="translate(59.2 732.3) scale(0.95 1)" font-size="9.01" text-anchor="end" fill="#231f20">10</text>
<line x1="62.5" y1="755.5" x2="64.8" y2="755.5" stroke="#7a7a7a" stroke-width="0.8" stroke-linecap="butt"/>
<text transform="translate(59.2 758.2) scale(0.95 1)" font-size="9.01" text-anchor="end" fill="#231f20">5</text>
<line x1="62.5" y1="781.6" x2="64.8" y2="781.6" stroke="#7a7a7a" stroke-width="0.8" stroke-linecap="butt"/>
<text transform="translate(59.2 784.3) scale(0.95 1)" font-size="9.01" text-anchor="end" fill="#231f20">0</text>
<line x1="64.8" y1="781.6" x2="130.5" y2="781.6" stroke="#7a7a7a" stroke-width="0.8" stroke-linecap="butt"/>
<polyline points="64.8,740 68.9,757 73,767 81.2,777.5 97.7,781.6 130.5,780.5" fill="none" stroke="#8a0f14" stroke-width="1.6" stroke-linejoin="round" stroke-linecap="round"/>
<line x1="64.8" y1="730.2" x2="64.8" y2="749" stroke="#8a0f14" stroke-width="1.2" stroke-linecap="butt"/>
<rect x="63.7" y="729.5" width="2.2" height="1.4" rx="0.8" fill="#8a0f14"/>
<rect x="63.7" y="748.3" width="2.2" height="1.4" rx="0.8" fill="#8a0f14"/>
<line x1="68.9" y1="753" x2="68.9" y2="761" stroke="#8a0f14" stroke-width="1.2" stroke-linecap="butt"/>
<rect x="67.8" y="752.3" width="2.2" height="1.4" rx="0.8" fill="#8a0f14"/>
<rect x="67.8" y="760.3" width="2.2" height="1.4" rx="0.8" fill="#8a0f14"/>
<line x1="73" y1="764" x2="73" y2="770" stroke="#8a0f14" stroke-width="1.2" stroke-linecap="butt"/>
<rect x="71.9" y="763.3" width="2.2" height="1.4" rx="0.8" fill="#8a0f14"/>
<rect x="71.9" y="769.3" width="2.2" height="1.4" rx="0.8" fill="#8a0f14"/>
<line x1="81.2" y1="775.5" x2="81.2" y2="779.5" stroke="#8a0f14" stroke-width="1.2" stroke-linecap="butt"/>
<rect x="80.1" y="774.8" width="2.2" height="1.4" rx="0.8" fill="#8a0f14"/>
<rect x="80.1" y="778.8" width="2.2" height="1.4" rx="0.8" fill="#8a0f14"/>
<text transform="translate(64.8 794.5) scale(0.95 1)" font-size="9.01" text-anchor="middle" fill="#231f20">0</text>
<text transform="translate(96.8 794.5) scale(0.95 1)" font-size="9.01" text-anchor="middle" fill="#231f20">25.6</text>
<text transform="translate(129.1 794.5) scale(0.95 1)" font-size="9.01" text-anchor="middle" fill="#231f20">51.2</text>
<text transform="translate(64.5 726.6) scale(0.92 1)" font-size="10.8" text-anchor="start" fill="#231f20">×10</text>
<text transform="translate(81.1 721.9) scale(0.92 1)" font-size="7.8" text-anchor="start" fill="#231f20">−3</text>
<polyline points="278.3,656.6 287.3,649.5 296.3,642.8 314.2,616.1 350.1,607.5 421.9,549.7" fill="none" stroke="#1414f0" stroke-width="2.5" stroke-linejoin="round" stroke-linecap="round"/>
<line x1="278.3" y1="653.7" x2="278.3" y2="659.9" stroke="#1414f0" stroke-width="2.0" stroke-linecap="butt"/>
<rect x="276.3" y="652.5" width="4" height="2.4" rx="0.8" fill="#1414f0"/>
<rect x="276.3" y="658.7" width="4" height="2.4" rx="0.8" fill="#1414f0"/>
<line x1="287.3" y1="645.8" x2="287.3" y2="653" stroke="#1414f0" stroke-width="2.0" stroke-linecap="butt"/>
<rect x="285.3" y="644.6" width="4" height="2.4" rx="0.8" fill="#1414f0"/>
<rect x="285.3" y="651.8" width="4" height="2.4" rx="0.8" fill="#1414f0"/>
<line x1="296.3" y1="638.8" x2="296.3" y2="648.7" stroke="#1414f0" stroke-width="2.0" stroke-linecap="butt"/>
<rect x="294.3" y="637.6" width="4" height="2.4" rx="0.8" fill="#1414f0"/>
<rect x="294.3" y="647.5" width="4" height="2.4" rx="0.8" fill="#1414f0"/>
<line x1="314.2" y1="608.4" x2="314.2" y2="623.8" stroke="#1414f0" stroke-width="2.0" stroke-linecap="butt"/>
<rect x="312.2" y="607.2" width="4" height="2.4" rx="0.8" fill="#1414f0"/>
<rect x="312.2" y="622.6" width="4" height="2.4" rx="0.8" fill="#1414f0"/>
<line x1="350.1" y1="595.9" x2="350.1" y2="618.9" stroke="#1414f0" stroke-width="2.0" stroke-linecap="butt"/>
<rect x="348.1" y="594.7" width="4" height="2.4" rx="0.8" fill="#1414f0"/>
<rect x="348.1" y="617.7" width="4" height="2.4" rx="0.8" fill="#1414f0"/>
<line x1="421.9" y1="531.5" x2="421.9" y2="567.5" stroke="#1414f0" stroke-width="2.0" stroke-linecap="butt"/>
<rect x="419.9" y="530.3" width="4" height="2.4" rx="0.8" fill="#1414f0"/>
<rect x="419.9" y="566.3" width="4" height="2.4" rx="0.8" fill="#1414f0"/>
<polyline points="278.3,673.4 287.3,671.9 296.3,673.4 314.2,674.3 350.1,674.3 421.9,675" fill="none" stroke="#10106e" stroke-width="2.6" stroke-linejoin="round" stroke-linecap="round"/>
<line x1="278.3" y1="671.6" x2="278.3" y2="675.2" stroke="#10106e" stroke-width="1.6" stroke-linecap="butt"/>
<rect x="276.7" y="670.8" width="3.2" height="1.6" rx="0.8" fill="#10106e"/>
<rect x="276.7" y="674.4" width="3.2" height="1.6" rx="0.8" fill="#10106e"/>
<line x1="287.3" y1="670.1" x2="287.3" y2="673.7" stroke="#10106e" stroke-width="1.6" stroke-linecap="butt"/>
<rect x="285.7" y="669.3" width="3.2" height="1.6" rx="0.8" fill="#10106e"/>
<rect x="285.7" y="672.9" width="3.2" height="1.6" rx="0.8" fill="#10106e"/>
<line x1="296.3" y1="671.6" x2="296.3" y2="675.2" stroke="#10106e" stroke-width="1.6" stroke-linecap="butt"/>
<rect x="294.7" y="670.8" width="3.2" height="1.6" rx="0.8" fill="#10106e"/>
<rect x="294.7" y="674.4" width="3.2" height="1.6" rx="0.8" fill="#10106e"/>
<polyline points="278.8,882.3 287.8,883.5 296.8,881 314.7,874.6 350.6,877.6 422.4,821.2" fill="none" stroke="#1414f0" stroke-width="2.5" stroke-linejoin="round" stroke-linecap="round"/>
<line x1="278.8" y1="880.3" x2="278.8" y2="884.3" stroke="#1414f0" stroke-width="2.0" stroke-linecap="butt"/>
<rect x="276.8" y="879.1" width="4" height="2.4" rx="0.8" fill="#1414f0"/>
<rect x="276.8" y="883.1" width="4" height="2.4" rx="0.8" fill="#1414f0"/>
<line x1="287.8" y1="881.5" x2="287.8" y2="885.5" stroke="#1414f0" stroke-width="2.0" stroke-linecap="butt"/>
<rect x="285.8" y="880.3" width="4" height="2.4" rx="0.8" fill="#1414f0"/>
<rect x="285.8" y="884.3" width="4" height="2.4" rx="0.8" fill="#1414f0"/>
<line x1="296.8" y1="879" x2="296.8" y2="883" stroke="#1414f0" stroke-width="2.0" stroke-linecap="butt"/>
<rect x="294.8" y="877.8" width="4" height="2.4" rx="0.8" fill="#1414f0"/>
<rect x="294.8" y="881.8" width="4" height="2.4" rx="0.8" fill="#1414f0"/>
<line x1="314.7" y1="871.4" x2="314.7" y2="878.1" stroke="#1414f0" stroke-width="2.0" stroke-linecap="butt"/>
<rect x="312.7" y="870.2" width="4" height="2.4" rx="0.8" fill="#1414f0"/>
<rect x="312.7" y="876.9" width="4" height="2.4" rx="0.8" fill="#1414f0"/>
<line x1="350.6" y1="871.4" x2="350.6" y2="884.3" stroke="#1414f0" stroke-width="2.0" stroke-linecap="butt"/>
<rect x="348.6" y="870.2" width="4" height="2.4" rx="0.8" fill="#1414f0"/>
<rect x="348.6" y="883.1" width="4" height="2.4" rx="0.8" fill="#1414f0"/>
<line x1="422.4" y1="796.9" x2="422.4" y2="844.1" stroke="#1414f0" stroke-width="2.0" stroke-linecap="butt"/>
<rect x="420.4" y="795.7" width="4" height="2.4" rx="0.8" fill="#1414f0"/>
<rect x="420.4" y="842.9" width="4" height="2.4" rx="0.8" fill="#1414f0"/>
<polyline points="278.8,842 287.8,856.5 296.8,868.2 314.7,885.7 350.6,894.1 422.4,896.4" fill="none" stroke="#10106e" stroke-width="2.6" stroke-linejoin="round" stroke-linecap="round"/>
<line x1="278.8" y1="838" x2="278.8" y2="847" stroke="#10106e" stroke-width="2.0" stroke-linecap="butt"/>
<rect x="276.8" y="836.8" width="4" height="2.4" rx="0.8" fill="#10106e"/>
<rect x="276.8" y="845.8" width="4" height="2.4" rx="0.8" fill="#10106e"/>
<line x1="287.8" y1="853" x2="287.8" y2="860" stroke="#10106e" stroke-width="2.0" stroke-linecap="butt"/>
<rect x="285.8" y="851.8" width="4" height="2.4" rx="0.8" fill="#10106e"/>
<rect x="285.8" y="858.8" width="4" height="2.4" rx="0.8" fill="#10106e"/>
<line x1="296.8" y1="865" x2="296.8" y2="871" stroke="#10106e" stroke-width="2.0" stroke-linecap="butt"/>
<rect x="294.8" y="863.8" width="4" height="2.4" rx="0.8" fill="#10106e"/>
<rect x="294.8" y="869.8" width="4" height="2.4" rx="0.8" fill="#10106e"/>
<line x1="314.7" y1="883.5" x2="314.7" y2="888" stroke="#10106e" stroke-width="2.0" stroke-linecap="butt"/>
<rect x="312.7" y="882.3" width="4" height="2.4" rx="0.8" fill="#10106e"/>
<rect x="312.7" y="886.8" width="4" height="2.4" rx="0.8" fill="#10106e"/>
<line x1="350.6" y1="892.5" x2="350.6" y2="895.7" stroke="#10106e" stroke-width="2.0" stroke-linecap="butt"/>
<rect x="348.6" y="891.3" width="4" height="2.4" rx="0.8" fill="#10106e"/>
<rect x="348.6" y="894.5" width="4" height="2.4" rx="0.8" fill="#10106e"/>
<line x1="422.4" y1="895" x2="422.4" y2="897.8" stroke="#10106e" stroke-width="2.0" stroke-linecap="butt"/>
<rect x="420.4" y="893.8" width="4" height="2.4" rx="0.8" fill="#10106e"/>
<rect x="420.4" y="896.6" width="4" height="2.4" rx="0.8" fill="#10106e"/>
<line x1="286.6" y1="497.3" x2="305.7" y2="497.3" stroke="#1414f0" stroke-width="2.0" stroke-linecap="butt"/>
<line x1="296.3" y1="492.8" x2="296.3" y2="501.8" stroke="#1414f0" stroke-width="1.8" stroke-linecap="butt"/>
<rect x="294.3" y="491.8" width="4" height="2" rx="0.8" fill="#1414f0"/>
<rect x="294.3" y="500.8" width="4" height="2" rx="0.8" fill="#1414f0"/>
<line x1="286.6" y1="510.9" x2="305.7" y2="510.9" stroke="#10106e" stroke-width="2.0" stroke-linecap="butt"/>
<line x1="296.3" y1="506.4" x2="296.3" y2="515.4" stroke="#10106e" stroke-width="1.8" stroke-linecap="butt"/>
<rect x="294.3" y="505.4" width="4" height="2" rx="0.8" fill="#10106e"/>
<rect x="294.3" y="514.4" width="4" height="2" rx="0.8" fill="#10106e"/>
<text x="311.9" y="500.83" font-size="9.8" text-anchor="start" font-weight="normal" fill="#231f20" textLength="70.7" lengthAdjust="spacingAndGlyphs">Initial low to high</text>
<text x="311.9" y="514.43" font-size="9.8" text-anchor="start" font-weight="normal" fill="#231f20" textLength="70.7" lengthAdjust="spacingAndGlyphs">Initial high to low</text>
<polyline points="512.7,634.4 521.7,632.3 530.7,640.9 548.6,639.2 584.5,652.4 656.3,648.3" fill="none" stroke="#000" stroke-width="2.4" stroke-linejoin="round" stroke-linecap="round"/>
<circle cx="512.7" cy="634.4" r="3.3" fill="#000"/><circle cx="512.7" cy="634.4" r="1.1" fill="#fff"/>
<line x1="512.7" y1="629.2" x2="512.7" y2="639.6" stroke="#000" stroke-width="2.4" stroke-linecap="butt"/>
<rect x="510.8" y="628.1" width="3.8" height="2.2" rx="0.8" fill="#000"/>
<rect x="510.8" y="638.5" width="3.8" height="2.2" rx="0.8" fill="#000"/>
<circle cx="521.7" cy="632.3" r="3.3" fill="#000"/><circle cx="521.7" cy="632.3" r="1.1" fill="#fff"/>
<line x1="521.7" y1="627.1" x2="521.7" y2="637.5" stroke="#000" stroke-width="2.4" stroke-linecap="butt"/>
<rect x="519.8" y="626" width="3.8" height="2.2" rx="0.8" fill="#000"/>
<rect x="519.8" y="636.4" width="3.8" height="2.2" rx="0.8" fill="#000"/>
<circle cx="530.7" cy="640.9" r="3.3" fill="#000"/><circle cx="530.7" cy="640.9" r="1.1" fill="#fff"/>
<line x1="530.7" y1="635.7" x2="530.7" y2="646.1" stroke="#000" stroke-width="2.4" stroke-linecap="butt"/>
<rect x="528.8" y="634.6" width="3.8" height="2.2" rx="0.8" fill="#000"/>
<rect x="528.8" y="645" width="3.8" height="2.2" rx="0.8" fill="#000"/>
<circle cx="548.6" cy="639.2" r="3.3" fill="#000"/><circle cx="548.6" cy="639.2" r="1.1" fill="#fff"/>
<line x1="548.6" y1="634" x2="548.6" y2="644.4" stroke="#000" stroke-width="2.4" stroke-linecap="butt"/>
<rect x="546.7" y="632.9" width="3.8" height="2.2" rx="0.8" fill="#000"/>
<rect x="546.7" y="643.3" width="3.8" height="2.2" rx="0.8" fill="#000"/>
<circle cx="584.5" cy="652.4" r="3.3" fill="#000"/><circle cx="584.5" cy="652.4" r="1.1" fill="#fff"/>
<line x1="584.5" y1="647.2" x2="584.5" y2="657.6" stroke="#000" stroke-width="2.4" stroke-linecap="butt"/>
<rect x="582.6" y="646.1" width="3.8" height="2.2" rx="0.8" fill="#000"/>
<rect x="582.6" y="656.5" width="3.8" height="2.2" rx="0.8" fill="#000"/>
<circle cx="656.3" cy="648.3" r="3.3" fill="#000"/><circle cx="656.3" cy="648.3" r="1.1" fill="#fff"/>
<line x1="656.3" y1="643.1" x2="656.3" y2="653.5" stroke="#000" stroke-width="2.4" stroke-linecap="butt"/>
<rect x="654.4" y="642" width="3.8" height="2.2" rx="0.8" fill="#000"/>
<rect x="654.4" y="652.4" width="3.8" height="2.2" rx="0.8" fill="#000"/>
<polyline points="512.8,726.4 521.8,756.4 530.8,775 548.7,828.6 584.6,873.3 656.4,880.7" fill="none" stroke="#000" stroke-width="2.4" stroke-linejoin="round" stroke-linecap="round"/>
<circle cx="512.8" cy="726.4" r="3.3" fill="#000"/><circle cx="512.8" cy="726.4" r="1.1" fill="#fff"/>
<line x1="512.8" y1="721.2" x2="512.8" y2="731.6" stroke="#000" stroke-width="2.4" stroke-linecap="butt"/>
<rect x="510.9" y="720.1" width="3.8" height="2.2" rx="0.8" fill="#000"/>
<rect x="510.9" y="730.5" width="3.8" height="2.2" rx="0.8" fill="#000"/>
<circle cx="521.8" cy="756.4" r="3.3" fill="#000"/><circle cx="521.8" cy="756.4" r="1.1" fill="#fff"/>
<line x1="521.8" y1="751.2" x2="521.8" y2="761.6" stroke="#000" stroke-width="2.4" stroke-linecap="butt"/>
<rect x="519.9" y="750.1" width="3.8" height="2.2" rx="0.8" fill="#000"/>
<rect x="519.9" y="760.5" width="3.8" height="2.2" rx="0.8" fill="#000"/>
<circle cx="530.8" cy="775" r="3.3" fill="#000"/><circle cx="530.8" cy="775" r="1.1" fill="#fff"/>
<line x1="530.8" y1="769.8" x2="530.8" y2="780.2" stroke="#000" stroke-width="2.4" stroke-linecap="butt"/>
<rect x="528.9" y="768.7" width="3.8" height="2.2" rx="0.8" fill="#000"/>
<rect x="528.9" y="779.1" width="3.8" height="2.2" rx="0.8" fill="#000"/>
<circle cx="548.7" cy="828.6" r="3.3" fill="#000"/><circle cx="548.7" cy="828.6" r="1.1" fill="#fff"/>
<line x1="548.7" y1="823.4" x2="548.7" y2="833.8" stroke="#000" stroke-width="2.4" stroke-linecap="butt"/>
<rect x="546.8" y="822.3" width="3.8" height="2.2" rx="0.8" fill="#000"/>
<rect x="546.8" y="832.7" width="3.8" height="2.2" rx="0.8" fill="#000"/>
<circle cx="584.6" cy="873.3" r="3.3" fill="#000"/>
<circle cx="656.4" cy="880.7" r="3.3" fill="#000"/>
<line x1="587" y1="505.8" x2="589.6" y2="505.8" stroke="#7a7a7a" stroke-width="0.9" stroke-linecap="butt"/>
<text transform="translate(582 508.76) scale(0.95 1)" font-size="9.86" text-anchor="end" fill="#231f20">10</text>
<line x1="587" y1="531.4" x2="589.6" y2="531.4" stroke="#7a7a7a" stroke-width="0.9" stroke-linecap="butt"/>
<text transform="translate(582 534.36) scale(0.95 1)" font-size="9.86" text-anchor="end" fill="#231f20">5</text>
<line x1="587" y1="556.6" x2="589.6" y2="556.6" stroke="#7a7a7a" stroke-width="0.9" stroke-linecap="butt"/>
<text transform="translate(582 559.56) scale(0.95 1)" font-size="9.86" text-anchor="end" fill="#231f20">0</text>
<line x1="587" y1="582.2" x2="589.6" y2="582.2" stroke="#7a7a7a" stroke-width="0.9" stroke-linecap="butt"/>
<text transform="translate(582 585.16) scale(0.95 1)" font-size="9.86" text-anchor="end" fill="#231f20">−5</text>
<line x1="587" y1="608" x2="589.6" y2="608" stroke="#7a7a7a" stroke-width="0.9" stroke-linecap="butt"/>
<text transform="translate(582 610.96) scale(0.95 1)" font-size="9.86" text-anchor="end" fill="#231f20">−10</text>
<line x1="589.2" y1="607.3" x2="589.2" y2="609.8" stroke="#7a7a7a" stroke-width="0.9" stroke-linecap="butt"/>
<text transform="translate(589.2 621.36) scale(0.95 1)" font-size="9.86" text-anchor="middle" fill="#231f20">−10</text>
<line x1="611.6" y1="607.3" x2="611.6" y2="609.8" stroke="#7a7a7a" stroke-width="0.9" stroke-linecap="butt"/>
<text transform="translate(611.6 621.36) scale(0.95 1)" font-size="9.86" text-anchor="middle" fill="#231f20">−5</text>
<line x1="633.6" y1="607.3" x2="633.6" y2="609.8" stroke="#7a7a7a" stroke-width="0.9" stroke-linecap="butt"/>
<text transform="translate(633.6 621.36) scale(0.95 1)" font-size="9.86" text-anchor="middle" fill="#231f20">0</text>
<line x1="654.9" y1="607.3" x2="654.9" y2="609.8" stroke="#7a7a7a" stroke-width="0.9" stroke-linecap="butt"/>
<text transform="translate(654.9 621.36) scale(0.95 1)" font-size="9.86" text-anchor="middle" fill="#231f20">5</text>
<line x1="676.8" y1="607.3" x2="676.8" y2="609.8" stroke="#7a7a7a" stroke-width="0.9" stroke-linecap="butt"/>
<text transform="translate(676.8 621.36) scale(0.95 1)" font-size="9.86" text-anchor="middle" fill="#231f20">10</text>
<line x1="586.5" y1="556.6" x2="677.1" y2="556.6" stroke="#6e6e6e" stroke-width="1.0" stroke-linecap="butt" stroke-dasharray="5,3.5"/>
<line x1="633.6" y1="506.8" x2="633.6" y2="608" stroke="#6e6e6e" stroke-width="1.0" stroke-linecap="butt" stroke-dasharray="5,3.5"/>
<text x="633.2" y="502.86" font-size="11" text-anchor="middle" font-weight="normal" fill="#231f20">Change of choice</text>
<text x="583" y="637.46" font-size="11" text-anchor="start" font-weight="normal" fill="#231f20" textLength="102" lengthAdjust="spacingAndGlyphs">Horizontal pos. (deg)</text>
<text x="560.2" y="557.8" font-size="11" text-anchor="middle" font-weight="normal" fill="#231f20" textLength="90.5" lengthAdjust="spacingAndGlyphs" transform="rotate(-90 560.2 557.8)">Vertical pos. (deg)</text>
<path d="M633.6,556.6 L634.5,551 L635.5,546 L636.2,541 L635,539.5" fill="none" stroke="#b3213f" stroke-width="1.0" stroke-linejoin="round" stroke-linecap="round"/>
<path d="M634.3,543.6 L630,537.5 L625,530.5 L620,524 L616.5,520.5 L615.2,519.4 L617.5,518.8 L619.2,520" fill="none" stroke="#b3213f" stroke-width="1.0" stroke-linejoin="round" stroke-linecap="round"/>
<path d="M636,542 L631,536 L626,529 L621,523 L617,519.5" fill="none" stroke="#b3213f" stroke-width="1.0" stroke-linejoin="round" stroke-linecap="round"/>
<path d="M635,545.5 L629,538 L623,530 L618.4,522" fill="none" stroke="#b3213f" stroke-width="1.0" stroke-linejoin="round" stroke-linecap="round"/>
<path d="M636.4,544.6 L641,539 L646,533 L651,528.5 L655,525 L658.6,521.3 L657,523" fill="none" stroke="#b3213f" stroke-width="1.0" stroke-linejoin="round" stroke-linecap="round"/>
<path d="M636.4,547.8 L640,543 L643.5,541.5 L647,540 L651,538.5 L654.4,537.6 L652.5,539.5" fill="none" stroke="#b3213f" stroke-width="1.0" stroke-linejoin="round" stroke-linecap="round"/>
<path d="M633.6,556.6 L632,561 L628,565.5 L624.7,568.6 L630,569.6 L636.4,570 L645,571.5 L652,573.5 L655.5,575.3 L653.5,577 L652.3,578.5" fill="none" stroke="#b3213f" stroke-width="1.0" stroke-linejoin="round" stroke-linecap="round"/>
<path d="M633.6,553 L631,548.5 L629.8,546.7 L629,549.9 L631.5,548" fill="none" stroke="#b3213f" stroke-width="1.0" stroke-linejoin="round" stroke-linecap="round"/>
<line x1="588.3" y1="729.7" x2="590.9" y2="729.7" stroke="#7a7a7a" stroke-width="0.9" stroke-linecap="butt"/>
<text transform="translate(583.1 732.66) scale(0.95 1)" font-size="9.86" text-anchor="end" fill="#231f20">15</text>
<line x1="588.3" y1="746.5" x2="590.9" y2="746.5" stroke="#7a7a7a" stroke-width="0.9" stroke-linecap="butt"/>
<text transform="translate(583.1 749.46) scale(0.95 1)" font-size="9.86" text-anchor="end" fill="#231f20">10</text>
<line x1="588.3" y1="763.2" x2="590.9" y2="763.2" stroke="#7a7a7a" stroke-width="0.9" stroke-linecap="butt"/>
<text transform="translate(583.1 766.16) scale(0.95 1)" font-size="9.86" text-anchor="end" fill="#231f20">5</text>
<line x1="588.3" y1="780" x2="590.9" y2="780" stroke="#7a7a7a" stroke-width="0.9" stroke-linecap="butt"/>
<text transform="translate(583.1 782.96) scale(0.95 1)" font-size="9.86" text-anchor="end" fill="#231f20">0</text>
<line x1="588.3" y1="796.6" x2="590.9" y2="796.6" stroke="#7a7a7a" stroke-width="0.9" stroke-linecap="butt"/>
<text transform="translate(583.1 799.56) scale(0.95 1)" font-size="9.86" text-anchor="end" fill="#231f20">−5</text>
<line x1="588.3" y1="813.4" x2="590.9" y2="813.4" stroke="#7a7a7a" stroke-width="0.9" stroke-linecap="butt"/>
<text transform="translate(583.1 816.36) scale(0.95 1)" font-size="9.86" text-anchor="end" fill="#231f20">−10</text>
<line x1="588.3" y1="830.5" x2="590.9" y2="830.5" stroke="#7a7a7a" stroke-width="0.9" stroke-linecap="butt"/>
<text transform="translate(583.1 833.46) scale(0.95 1)" font-size="9.86" text-anchor="end" fill="#231f20">−15</text>
<line x1="590.6" y1="830.2" x2="590.6" y2="832.7" stroke="#7a7a7a" stroke-width="0.9" stroke-linecap="butt"/>
<text transform="translate(590.6 844.56) scale(0.95 1)" font-size="9.86" text-anchor="middle" fill="#231f20">−10</text>
<line x1="612.5" y1="830.2" x2="612.5" y2="832.7" stroke="#7a7a7a" stroke-width="0.9" stroke-linecap="butt"/>
<text transform="translate(612.5 844.56) scale(0.95 1)" font-size="9.86" text-anchor="middle" fill="#231f20">−5</text>
<line x1="634.2" y1="830.2" x2="634.2" y2="832.7" stroke="#7a7a7a" stroke-width="0.9" stroke-linecap="butt"/>
<text transform="translate(634.2 844.56) scale(0.95 1)" font-size="9.86" text-anchor="middle" fill="#231f20">0</text>
<line x1="655.6" y1="830.2" x2="655.6" y2="832.7" stroke="#7a7a7a" stroke-width="0.9" stroke-linecap="butt"/>
<text transform="translate(655.6 844.56) scale(0.95 1)" font-size="9.86" text-anchor="middle" fill="#231f20">5</text>
<line x1="677.4" y1="830.2" x2="677.4" y2="832.7" stroke="#7a7a7a" stroke-width="0.9" stroke-linecap="butt"/>
<text transform="translate(677.4 844.56) scale(0.95 1)" font-size="9.86" text-anchor="middle" fill="#231f20">10</text>
<line x1="586.5" y1="780" x2="677.1" y2="780" stroke="#9a9a9a" stroke-width="1.5" stroke-linecap="butt" stroke-dasharray="5,3.5"/>
<line x1="634.2" y1="739.6" x2="634.2" y2="820" stroke="#9a9a9a" stroke-width="1.5" stroke-linecap="butt" stroke-dasharray="5,3.5"/>
<text x="633.2" y="727.76" font-size="11" text-anchor="middle" font-weight="normal" fill="#231f20">Change of wager</text>
<text x="583" y="859.36" font-size="11" text-anchor="start" font-weight="normal" fill="#231f20" textLength="102" lengthAdjust="spacingAndGlyphs">Horizontal pos. (deg)</text>
<text x="564.9" y="780.5" font-size="11" text-anchor="middle" font-weight="normal" fill="#231f20" textLength="90.5" lengthAdjust="spacingAndGlyphs" transform="rotate(-90 564.9 780.5)">Vertical pos. (deg)</text>
<path d="M634.4,780 L630,770 L625,758 L619,745.5 L613,738 L608.1,735.2 L608.5,750 L609.5,765 L610.1,778 L607.5,790 L607.2,794.7" fill="none" stroke="#2a86cf" stroke-width="1.0" stroke-linejoin="round" stroke-linecap="round"/>
<path d="M610.1,778 L613,788 L615,797.7" fill="none" stroke="#2a86cf" stroke-width="1.0" stroke-linejoin="round" stroke-linecap="round"/>
<path d="M634.4,780 L625,771 L615,766.2 L605,763 L598.3,760.8 L600,766 L604,772 L609.1,778" fill="none" stroke="#2a86cf" stroke-width="1.0" stroke-linejoin="round" stroke-linecap="round"/>
<path d="M634.4,780 L637,774 L638.7,773.1 L641.6,775 L644,786 L648.5,802.6" fill="none" stroke="#2a86cf" stroke-width="1.0" stroke-linejoin="round" stroke-linecap="round"/>
<path d="M634.4,780 L640,774 L646,770 L655,766.2 L654.5,790.8" fill="none" stroke="#2a86cf" stroke-width="1.0" stroke-linejoin="round" stroke-linecap="round"/>
<path d="M634.4,780 L641,788 L647.6,794.7 L652,803 L655.4,815.4 L657.4,774 L660,768 L664,760 L666.3,746.5" fill="none" stroke="#2a86cf" stroke-width="1.0" stroke-linejoin="round" stroke-linecap="round"/>
<circle cx="666.2" cy="748.5" r="1.1" fill="#2a86cf" stroke="#2a86cf" stroke-width="0.8"/>
<circle cx="607.1" cy="793.3" r="1.1" fill="#2a86cf" stroke="#2a86cf" stroke-width="0.8"/>
<circle cx="615" cy="797.9" r="1.1" fill="#2a86cf" stroke="#2a86cf" stroke-width="0.8"/>
<circle cx="655" cy="790.7" r="1.1" fill="#2a86cf" stroke="#2a86cf" stroke-width="0.8"/>
<circle cx="649.1" cy="802.5" r="1.1" fill="#2a86cf" stroke="#2a86cf" stroke-width="0.8"/>
<circle cx="608.4" cy="735" r="1.1" fill="#2a86cf" stroke="#2a86cf" stroke-width="0.8"/>
<circle cx="598.3" cy="760.8" r="1.1" fill="#2a86cf" stroke="#2a86cf" stroke-width="0.8"/>
<circle cx="655" cy="766.2" r="1.1" fill="#2a86cf" stroke="#2a86cf" stroke-width="0.8"/>
<circle cx="655.4" cy="815.4" r="1.1" fill="#2a86cf" stroke="#2a86cf" stroke-width="0.8"/>
<path d="M666.3,746.5 L667,749 L665.5,751 L664.8,748" fill="none" stroke="#2a86cf" stroke-width="1.0" stroke-linejoin="round" stroke-linecap="round"/>
<path d="M657.4,774 L660,776.5 L661,778" fill="none" stroke="#2a86cf" stroke-width="1.0" stroke-linejoin="round" stroke-linecap="round"/>
<path d="M638.7,773.1 L641,775 L642.5,777" fill="none" stroke="#2a86cf" stroke-width="1.0" stroke-linejoin="round" stroke-linecap="round"/>
<circle cx="615.2" cy="519.4" r="1.2" fill="#b3213f"/>
<circle cx="658.6" cy="521.3" r="1.2" fill="#b3213f"/>
<circle cx="654.4" cy="537.6" r="1.2" fill="#b3213f"/>
<circle cx="652.3" cy="578.5" r="1.2" fill="#b3213f"/>
<text x="7.8" y="697.75" font-size="11" text-anchor="middle" font-weight="normal" fill="#231f20" textLength="160.3" lengthAdjust="spacingAndGlyphs" transform="rotate(-90 7.8 697.75)">Proportion of CoM trials (choice)</text>
<text x="242.8" y="697.6" font-size="11" text-anchor="middle" font-weight="normal" fill="#231f20" textLength="157.8" lengthAdjust="spacingAndGlyphs" transform="rotate(-90 242.8 697.6)">Proportion of CoM trials (wager)</text>
<text x="475.9" y="698.15" font-size="11" text-anchor="middle" font-weight="normal" fill="#231f20" textLength="270.3" lengthAdjust="spacingAndGlyphs" transform="rotate(-90 475.9 698.15)">Proportion of trials containing a CoM (choice or wager)</text>
<text x="303.3" y="931.66" font-size="11" text-anchor="start" font-weight="normal" fill="#231f20" textLength="118.8" lengthAdjust="spacingAndGlyphs">Motion strength (% Coh)</text>
<text x="17.9" y="482.9" font-size="15.5" text-anchor="start" font-weight="bold" fill="#000" stroke="#000" stroke-width="0.55" stroke-linejoin="round">e</text>
<text x="253.6" y="482.9" font-size="15.5" text-anchor="start" font-weight="bold" fill="#000" stroke="#000" stroke-width="0.55" stroke-linejoin="round">f</text>
<text x="485.2" y="482" font-size="15.5" text-anchor="start" font-weight="bold" fill="#000" stroke="#000" stroke-width="0.55" stroke-linejoin="round">g</text>
<text x="18.1" y="705.7" font-size="15.5" text-anchor="start" font-weight="bold" fill="#000" stroke="#000" stroke-width="0.55" stroke-linejoin="round">h</text>
<text x="253.6" y="707.5" font-size="15.5" text-anchor="start" font-weight="bold" fill="#000" stroke="#000" stroke-width="0.55" stroke-linejoin="round">i</text>
<text x="485.2" y="705" font-size="15.5" text-anchor="start" font-weight="bold" fill="#000" stroke="#000" stroke-width="0.55" stroke-linejoin="round">j</text>
</svg></body></html>
